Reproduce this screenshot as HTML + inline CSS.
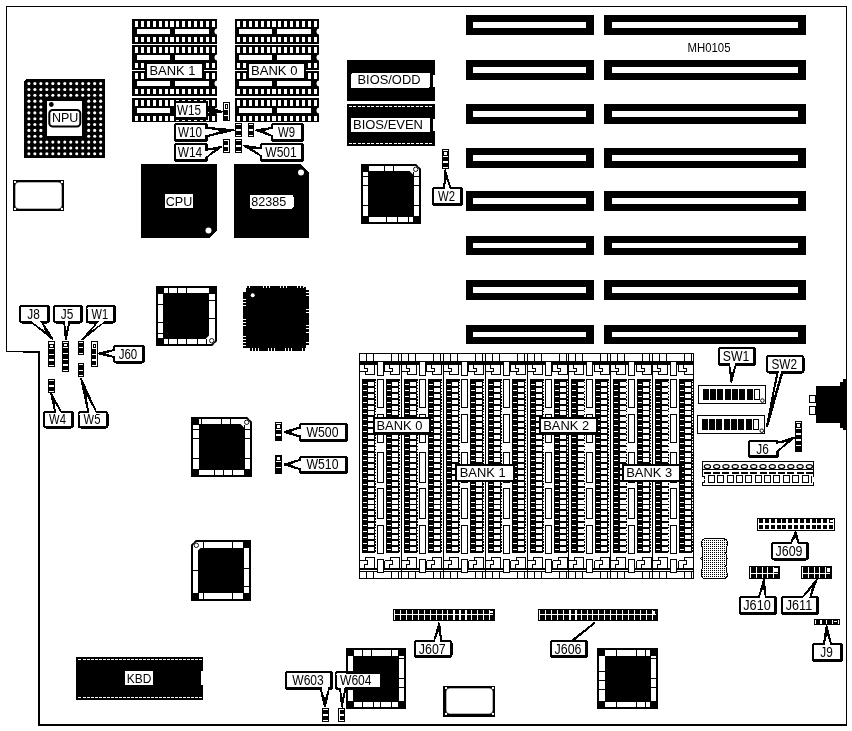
<!DOCTYPE html>
<html><head><meta charset="utf-8"><title>MH0105</title>
<style>html,body{margin:0;padding:0;background:#fff}svg{display:block;will-change:transform}text{font-family:"Liberation Sans",sans-serif}</style>
</head><body>
<svg width="852" height="731" viewBox="0 0 852 731" shape-rendering="crispEdges">
<rect width="852" height="731" fill="#fff"/>
<rect x="6" y="6" width="841" height="1" fill="#000"/>
<rect x="6" y="6" width="1" height="346" fill="#000"/>
<rect x="846" y="6" width="1" height="720" fill="#000"/>
<rect x="6" y="351" width="34" height="1" fill="#000"/>
<rect x="23" y="352" width="17" height="1" fill="#000"/>
<rect x="38" y="351" width="2" height="375" fill="#000"/>
<rect x="38" y="724" width="809" height="2" fill="#000"/>
<polygon points="26,79 105,79 105,158 24,158 24,81" fill="#000"/>
<circle cx="28.9" cy="83.6" r="1.55" fill="#fff" shape-rendering="geometricPrecision"/>
<circle cx="34.88" cy="83.6" r="1.55" fill="#fff" shape-rendering="geometricPrecision"/>
<circle cx="40.86" cy="83.6" r="1.55" fill="#fff" shape-rendering="geometricPrecision"/>
<circle cx="46.84" cy="83.6" r="1.55" fill="#fff" shape-rendering="geometricPrecision"/>
<circle cx="52.82" cy="83.6" r="1.55" fill="#fff" shape-rendering="geometricPrecision"/>
<circle cx="58.8" cy="83.6" r="1.55" fill="#fff" shape-rendering="geometricPrecision"/>
<circle cx="64.78" cy="83.6" r="1.55" fill="#fff" shape-rendering="geometricPrecision"/>
<circle cx="70.76" cy="83.6" r="1.55" fill="#fff" shape-rendering="geometricPrecision"/>
<circle cx="76.74" cy="83.6" r="1.55" fill="#fff" shape-rendering="geometricPrecision"/>
<circle cx="82.72" cy="83.6" r="1.55" fill="#fff" shape-rendering="geometricPrecision"/>
<circle cx="88.7" cy="83.6" r="1.55" fill="#fff" shape-rendering="geometricPrecision"/>
<circle cx="94.68" cy="83.6" r="1.55" fill="#fff" shape-rendering="geometricPrecision"/>
<circle cx="100.66" cy="83.6" r="1.55" fill="#fff" shape-rendering="geometricPrecision"/>
<circle cx="28.9" cy="89.45" r="1.55" fill="#fff" shape-rendering="geometricPrecision"/>
<circle cx="34.88" cy="89.45" r="1.55" fill="#fff" shape-rendering="geometricPrecision"/>
<circle cx="40.86" cy="89.45" r="1.55" fill="#fff" shape-rendering="geometricPrecision"/>
<circle cx="46.84" cy="89.45" r="1.55" fill="#fff" shape-rendering="geometricPrecision"/>
<circle cx="52.82" cy="89.45" r="1.55" fill="#fff" shape-rendering="geometricPrecision"/>
<circle cx="58.8" cy="89.45" r="1.55" fill="#fff" shape-rendering="geometricPrecision"/>
<circle cx="64.78" cy="89.45" r="1.55" fill="#fff" shape-rendering="geometricPrecision"/>
<circle cx="70.76" cy="89.45" r="1.55" fill="#fff" shape-rendering="geometricPrecision"/>
<circle cx="76.74" cy="89.45" r="1.55" fill="#fff" shape-rendering="geometricPrecision"/>
<circle cx="82.72" cy="89.45" r="1.55" fill="#fff" shape-rendering="geometricPrecision"/>
<circle cx="88.7" cy="89.45" r="1.55" fill="#fff" shape-rendering="geometricPrecision"/>
<circle cx="94.68" cy="89.45" r="1.55" fill="#fff" shape-rendering="geometricPrecision"/>
<circle cx="100.66" cy="89.45" r="1.55" fill="#fff" shape-rendering="geometricPrecision"/>
<circle cx="28.9" cy="95.3" r="1.55" fill="#fff" shape-rendering="geometricPrecision"/>
<circle cx="34.88" cy="95.3" r="1.55" fill="#fff" shape-rendering="geometricPrecision"/>
<circle cx="40.86" cy="95.3" r="1.55" fill="#fff" shape-rendering="geometricPrecision"/>
<circle cx="46.84" cy="95.3" r="1.55" fill="#fff" shape-rendering="geometricPrecision"/>
<circle cx="52.82" cy="95.3" r="1.55" fill="#fff" shape-rendering="geometricPrecision"/>
<circle cx="58.8" cy="95.3" r="1.55" fill="#fff" shape-rendering="geometricPrecision"/>
<circle cx="64.78" cy="95.3" r="1.55" fill="#fff" shape-rendering="geometricPrecision"/>
<circle cx="70.76" cy="95.3" r="1.55" fill="#fff" shape-rendering="geometricPrecision"/>
<circle cx="76.74" cy="95.3" r="1.55" fill="#fff" shape-rendering="geometricPrecision"/>
<circle cx="82.72" cy="95.3" r="1.55" fill="#fff" shape-rendering="geometricPrecision"/>
<circle cx="88.7" cy="95.3" r="1.55" fill="#fff" shape-rendering="geometricPrecision"/>
<circle cx="94.68" cy="95.3" r="1.55" fill="#fff" shape-rendering="geometricPrecision"/>
<circle cx="100.66" cy="95.3" r="1.55" fill="#fff" shape-rendering="geometricPrecision"/>
<circle cx="28.9" cy="101.15" r="1.55" fill="#fff" shape-rendering="geometricPrecision"/>
<circle cx="34.88" cy="101.15" r="1.55" fill="#fff" shape-rendering="geometricPrecision"/>
<circle cx="40.86" cy="101.15" r="1.55" fill="#fff" shape-rendering="geometricPrecision"/>
<circle cx="88.7" cy="101.15" r="1.55" fill="#fff" shape-rendering="geometricPrecision"/>
<circle cx="94.68" cy="101.15" r="1.55" fill="#fff" shape-rendering="geometricPrecision"/>
<circle cx="100.66" cy="101.15" r="1.55" fill="#fff" shape-rendering="geometricPrecision"/>
<circle cx="28.9" cy="107" r="1.55" fill="#fff" shape-rendering="geometricPrecision"/>
<circle cx="34.88" cy="107" r="1.55" fill="#fff" shape-rendering="geometricPrecision"/>
<circle cx="40.86" cy="107" r="1.55" fill="#fff" shape-rendering="geometricPrecision"/>
<circle cx="88.7" cy="107" r="1.55" fill="#fff" shape-rendering="geometricPrecision"/>
<circle cx="94.68" cy="107" r="1.55" fill="#fff" shape-rendering="geometricPrecision"/>
<circle cx="100.66" cy="107" r="1.55" fill="#fff" shape-rendering="geometricPrecision"/>
<circle cx="28.9" cy="112.85" r="1.55" fill="#fff" shape-rendering="geometricPrecision"/>
<circle cx="34.88" cy="112.85" r="1.55" fill="#fff" shape-rendering="geometricPrecision"/>
<circle cx="40.86" cy="112.85" r="1.55" fill="#fff" shape-rendering="geometricPrecision"/>
<circle cx="88.7" cy="112.85" r="1.55" fill="#fff" shape-rendering="geometricPrecision"/>
<circle cx="94.68" cy="112.85" r="1.55" fill="#fff" shape-rendering="geometricPrecision"/>
<circle cx="100.66" cy="112.85" r="1.55" fill="#fff" shape-rendering="geometricPrecision"/>
<circle cx="28.9" cy="118.7" r="1.55" fill="#fff" shape-rendering="geometricPrecision"/>
<circle cx="34.88" cy="118.7" r="1.55" fill="#fff" shape-rendering="geometricPrecision"/>
<circle cx="40.86" cy="118.7" r="1.55" fill="#fff" shape-rendering="geometricPrecision"/>
<circle cx="88.7" cy="118.7" r="1.55" fill="#fff" shape-rendering="geometricPrecision"/>
<circle cx="94.68" cy="118.7" r="1.55" fill="#fff" shape-rendering="geometricPrecision"/>
<circle cx="100.66" cy="118.7" r="1.55" fill="#fff" shape-rendering="geometricPrecision"/>
<circle cx="28.9" cy="124.55" r="1.55" fill="#fff" shape-rendering="geometricPrecision"/>
<circle cx="34.88" cy="124.55" r="1.55" fill="#fff" shape-rendering="geometricPrecision"/>
<circle cx="40.86" cy="124.55" r="1.55" fill="#fff" shape-rendering="geometricPrecision"/>
<circle cx="88.7" cy="124.55" r="1.55" fill="#fff" shape-rendering="geometricPrecision"/>
<circle cx="94.68" cy="124.55" r="1.55" fill="#fff" shape-rendering="geometricPrecision"/>
<circle cx="100.66" cy="124.55" r="1.55" fill="#fff" shape-rendering="geometricPrecision"/>
<circle cx="28.9" cy="130.4" r="1.55" fill="#fff" shape-rendering="geometricPrecision"/>
<circle cx="34.88" cy="130.4" r="1.55" fill="#fff" shape-rendering="geometricPrecision"/>
<circle cx="40.86" cy="130.4" r="1.55" fill="#fff" shape-rendering="geometricPrecision"/>
<circle cx="88.7" cy="130.4" r="1.55" fill="#fff" shape-rendering="geometricPrecision"/>
<circle cx="94.68" cy="130.4" r="1.55" fill="#fff" shape-rendering="geometricPrecision"/>
<circle cx="100.66" cy="130.4" r="1.55" fill="#fff" shape-rendering="geometricPrecision"/>
<circle cx="28.9" cy="136.25" r="1.55" fill="#fff" shape-rendering="geometricPrecision"/>
<circle cx="34.88" cy="136.25" r="1.55" fill="#fff" shape-rendering="geometricPrecision"/>
<circle cx="40.86" cy="136.25" r="1.55" fill="#fff" shape-rendering="geometricPrecision"/>
<circle cx="88.7" cy="136.25" r="1.55" fill="#fff" shape-rendering="geometricPrecision"/>
<circle cx="94.68" cy="136.25" r="1.55" fill="#fff" shape-rendering="geometricPrecision"/>
<circle cx="100.66" cy="136.25" r="1.55" fill="#fff" shape-rendering="geometricPrecision"/>
<circle cx="28.9" cy="142.1" r="1.55" fill="#fff" shape-rendering="geometricPrecision"/>
<circle cx="34.88" cy="142.1" r="1.55" fill="#fff" shape-rendering="geometricPrecision"/>
<circle cx="40.86" cy="142.1" r="1.55" fill="#fff" shape-rendering="geometricPrecision"/>
<circle cx="46.84" cy="142.1" r="1.55" fill="#fff" shape-rendering="geometricPrecision"/>
<circle cx="52.82" cy="142.1" r="1.55" fill="#fff" shape-rendering="geometricPrecision"/>
<circle cx="58.8" cy="142.1" r="1.55" fill="#fff" shape-rendering="geometricPrecision"/>
<circle cx="64.78" cy="142.1" r="1.55" fill="#fff" shape-rendering="geometricPrecision"/>
<circle cx="70.76" cy="142.1" r="1.55" fill="#fff" shape-rendering="geometricPrecision"/>
<circle cx="76.74" cy="142.1" r="1.55" fill="#fff" shape-rendering="geometricPrecision"/>
<circle cx="82.72" cy="142.1" r="1.55" fill="#fff" shape-rendering="geometricPrecision"/>
<circle cx="88.7" cy="142.1" r="1.55" fill="#fff" shape-rendering="geometricPrecision"/>
<circle cx="94.68" cy="142.1" r="1.55" fill="#fff" shape-rendering="geometricPrecision"/>
<circle cx="100.66" cy="142.1" r="1.55" fill="#fff" shape-rendering="geometricPrecision"/>
<circle cx="28.9" cy="147.95" r="1.55" fill="#fff" shape-rendering="geometricPrecision"/>
<circle cx="34.88" cy="147.95" r="1.55" fill="#fff" shape-rendering="geometricPrecision"/>
<circle cx="40.86" cy="147.95" r="1.55" fill="#fff" shape-rendering="geometricPrecision"/>
<circle cx="46.84" cy="147.95" r="1.55" fill="#fff" shape-rendering="geometricPrecision"/>
<circle cx="52.82" cy="147.95" r="1.55" fill="#fff" shape-rendering="geometricPrecision"/>
<circle cx="58.8" cy="147.95" r="1.55" fill="#fff" shape-rendering="geometricPrecision"/>
<circle cx="64.78" cy="147.95" r="1.55" fill="#fff" shape-rendering="geometricPrecision"/>
<circle cx="70.76" cy="147.95" r="1.55" fill="#fff" shape-rendering="geometricPrecision"/>
<circle cx="76.74" cy="147.95" r="1.55" fill="#fff" shape-rendering="geometricPrecision"/>
<circle cx="82.72" cy="147.95" r="1.55" fill="#fff" shape-rendering="geometricPrecision"/>
<circle cx="88.7" cy="147.95" r="1.55" fill="#fff" shape-rendering="geometricPrecision"/>
<circle cx="94.68" cy="147.95" r="1.55" fill="#fff" shape-rendering="geometricPrecision"/>
<circle cx="100.66" cy="147.95" r="1.55" fill="#fff" shape-rendering="geometricPrecision"/>
<circle cx="28.9" cy="153.8" r="1.55" fill="#fff" shape-rendering="geometricPrecision"/>
<circle cx="34.88" cy="153.8" r="1.55" fill="#fff" shape-rendering="geometricPrecision"/>
<circle cx="40.86" cy="153.8" r="1.55" fill="#fff" shape-rendering="geometricPrecision"/>
<circle cx="46.84" cy="153.8" r="1.55" fill="#fff" shape-rendering="geometricPrecision"/>
<circle cx="52.82" cy="153.8" r="1.55" fill="#fff" shape-rendering="geometricPrecision"/>
<circle cx="58.8" cy="153.8" r="1.55" fill="#fff" shape-rendering="geometricPrecision"/>
<circle cx="64.78" cy="153.8" r="1.55" fill="#fff" shape-rendering="geometricPrecision"/>
<circle cx="70.76" cy="153.8" r="1.55" fill="#fff" shape-rendering="geometricPrecision"/>
<circle cx="76.74" cy="153.8" r="1.55" fill="#fff" shape-rendering="geometricPrecision"/>
<circle cx="82.72" cy="153.8" r="1.55" fill="#fff" shape-rendering="geometricPrecision"/>
<circle cx="88.7" cy="153.8" r="1.55" fill="#fff" shape-rendering="geometricPrecision"/>
<circle cx="94.68" cy="153.8" r="1.55" fill="#fff" shape-rendering="geometricPrecision"/>
<circle cx="100.66" cy="153.8" r="1.55" fill="#fff" shape-rendering="geometricPrecision"/>
<rect x="47" y="101" width="35" height="35" fill="#fff"/>
<circle cx="51.3" cy="104.5" r="2.4" fill="#000" shape-rendering="geometricPrecision"/>
<rect x="49.3" y="110" width="31" height="16.5" rx="3.5" fill="#fff" stroke="#000" stroke-width="2" shape-rendering="geometricPrecision"/>
<text x="52" y="122.4" font-size="12.5" text-anchor="start" fill="#000" textLength="26.4" lengthAdjust="spacingAndGlyphs">NPU</text>
<rect x="132" y="19" width="85" height="25" fill="#000"/>
<rect x="135" y="21" width="3" height="6" fill="#fff"/>
<rect x="135" y="37" width="3" height="5" fill="#fff"/>
<rect x="141" y="21" width="3" height="6" fill="#fff"/>
<rect x="141" y="37" width="3" height="5" fill="#fff"/>
<rect x="147" y="21" width="3" height="6" fill="#fff"/>
<rect x="147" y="37" width="3" height="5" fill="#fff"/>
<rect x="153" y="21" width="3" height="6" fill="#fff"/>
<rect x="153" y="37" width="3" height="5" fill="#fff"/>
<rect x="159" y="21" width="3" height="6" fill="#fff"/>
<rect x="159" y="37" width="3" height="5" fill="#fff"/>
<rect x="165" y="21" width="3" height="6" fill="#fff"/>
<rect x="165" y="37" width="3" height="5" fill="#fff"/>
<rect x="170" y="21" width="3.5" height="6" fill="#fff"/>
<rect x="170" y="37" width="3.5" height="5" fill="#fff"/>
<rect x="176" y="21" width="3" height="6" fill="#fff"/>
<rect x="176" y="37" width="3" height="5" fill="#fff"/>
<rect x="182" y="21" width="3" height="6" fill="#fff"/>
<rect x="182" y="37" width="3" height="5" fill="#fff"/>
<rect x="188" y="21" width="3" height="6" fill="#fff"/>
<rect x="188" y="37" width="3" height="5" fill="#fff"/>
<rect x="194" y="21" width="3" height="6" fill="#fff"/>
<rect x="194" y="37" width="3" height="5" fill="#fff"/>
<rect x="200" y="21" width="3" height="6" fill="#fff"/>
<rect x="200" y="37" width="3" height="5" fill="#fff"/>
<rect x="206" y="21" width="3" height="6" fill="#fff"/>
<rect x="206" y="37" width="3" height="5" fill="#fff"/>
<rect x="212" y="21" width="3" height="6" fill="#fff"/>
<rect x="212" y="37" width="3" height="5" fill="#fff"/>
<rect x="137" y="29" width="33" height="5" fill="#fff"/>
<rect x="175" y="29" width="34" height="5" fill="#fff"/>
<circle cx="217.5" cy="31.5" r="3" fill="#fff" shape-rendering="geometricPrecision"/>
<rect x="132" y="45" width="85" height="25" fill="#000"/>
<rect x="135" y="47" width="3" height="6" fill="#fff"/>
<rect x="135" y="63" width="3" height="5" fill="#fff"/>
<rect x="141" y="47" width="3" height="6" fill="#fff"/>
<rect x="141" y="63" width="3" height="5" fill="#fff"/>
<rect x="147" y="47" width="3" height="6" fill="#fff"/>
<rect x="147" y="63" width="3" height="5" fill="#fff"/>
<rect x="153" y="47" width="3" height="6" fill="#fff"/>
<rect x="153" y="63" width="3" height="5" fill="#fff"/>
<rect x="159" y="47" width="3" height="6" fill="#fff"/>
<rect x="159" y="63" width="3" height="5" fill="#fff"/>
<rect x="165" y="47" width="3" height="6" fill="#fff"/>
<rect x="165" y="63" width="3" height="5" fill="#fff"/>
<rect x="170" y="47" width="3.5" height="6" fill="#fff"/>
<rect x="170" y="63" width="3.5" height="5" fill="#fff"/>
<rect x="176" y="47" width="3" height="6" fill="#fff"/>
<rect x="176" y="63" width="3" height="5" fill="#fff"/>
<rect x="182" y="47" width="3" height="6" fill="#fff"/>
<rect x="182" y="63" width="3" height="5" fill="#fff"/>
<rect x="188" y="47" width="3" height="6" fill="#fff"/>
<rect x="188" y="63" width="3" height="5" fill="#fff"/>
<rect x="194" y="47" width="3" height="6" fill="#fff"/>
<rect x="194" y="63" width="3" height="5" fill="#fff"/>
<rect x="200" y="47" width="3" height="6" fill="#fff"/>
<rect x="200" y="63" width="3" height="5" fill="#fff"/>
<rect x="206" y="47" width="3" height="6" fill="#fff"/>
<rect x="206" y="63" width="3" height="5" fill="#fff"/>
<rect x="212" y="47" width="3" height="6" fill="#fff"/>
<rect x="212" y="63" width="3" height="5" fill="#fff"/>
<rect x="137" y="55" width="33" height="5" fill="#fff"/>
<rect x="175" y="55" width="34" height="5" fill="#fff"/>
<circle cx="217.5" cy="57.5" r="3" fill="#fff" shape-rendering="geometricPrecision"/>
<rect x="132" y="71" width="85" height="25" fill="#000"/>
<rect x="135" y="73" width="3" height="6" fill="#fff"/>
<rect x="135" y="89" width="3" height="5" fill="#fff"/>
<rect x="141" y="73" width="3" height="6" fill="#fff"/>
<rect x="141" y="89" width="3" height="5" fill="#fff"/>
<rect x="147" y="73" width="3" height="6" fill="#fff"/>
<rect x="147" y="89" width="3" height="5" fill="#fff"/>
<rect x="153" y="73" width="3" height="6" fill="#fff"/>
<rect x="153" y="89" width="3" height="5" fill="#fff"/>
<rect x="159" y="73" width="3" height="6" fill="#fff"/>
<rect x="159" y="89" width="3" height="5" fill="#fff"/>
<rect x="165" y="73" width="3" height="6" fill="#fff"/>
<rect x="165" y="89" width="3" height="5" fill="#fff"/>
<rect x="170" y="73" width="3.5" height="6" fill="#fff"/>
<rect x="170" y="89" width="3.5" height="5" fill="#fff"/>
<rect x="176" y="73" width="3" height="6" fill="#fff"/>
<rect x="176" y="89" width="3" height="5" fill="#fff"/>
<rect x="182" y="73" width="3" height="6" fill="#fff"/>
<rect x="182" y="89" width="3" height="5" fill="#fff"/>
<rect x="188" y="73" width="3" height="6" fill="#fff"/>
<rect x="188" y="89" width="3" height="5" fill="#fff"/>
<rect x="194" y="73" width="3" height="6" fill="#fff"/>
<rect x="194" y="89" width="3" height="5" fill="#fff"/>
<rect x="200" y="73" width="3" height="6" fill="#fff"/>
<rect x="200" y="89" width="3" height="5" fill="#fff"/>
<rect x="206" y="73" width="3" height="6" fill="#fff"/>
<rect x="206" y="89" width="3" height="5" fill="#fff"/>
<rect x="212" y="73" width="3" height="6" fill="#fff"/>
<rect x="212" y="89" width="3" height="5" fill="#fff"/>
<rect x="137" y="81" width="33" height="5" fill="#fff"/>
<rect x="175" y="81" width="34" height="5" fill="#fff"/>
<circle cx="217.5" cy="83.5" r="3" fill="#fff" shape-rendering="geometricPrecision"/>
<rect x="132" y="98" width="85" height="24" fill="#000"/>
<rect x="135" y="100" width="3" height="6" fill="#fff"/>
<rect x="135" y="116" width="3" height="5" fill="#fff"/>
<rect x="141" y="100" width="3" height="6" fill="#fff"/>
<rect x="141" y="116" width="3" height="5" fill="#fff"/>
<rect x="147" y="100" width="3" height="6" fill="#fff"/>
<rect x="147" y="116" width="3" height="5" fill="#fff"/>
<rect x="153" y="100" width="3" height="6" fill="#fff"/>
<rect x="153" y="116" width="3" height="5" fill="#fff"/>
<rect x="159" y="100" width="3" height="6" fill="#fff"/>
<rect x="159" y="116" width="3" height="5" fill="#fff"/>
<rect x="165" y="100" width="3" height="6" fill="#fff"/>
<rect x="165" y="116" width="3" height="5" fill="#fff"/>
<rect x="170" y="100" width="3.5" height="6" fill="#fff"/>
<rect x="170" y="116" width="3.5" height="5" fill="#fff"/>
<rect x="176" y="100" width="3" height="6" fill="#fff"/>
<rect x="176" y="116" width="3" height="5" fill="#fff"/>
<rect x="182" y="100" width="3" height="6" fill="#fff"/>
<rect x="182" y="116" width="3" height="5" fill="#fff"/>
<rect x="188" y="100" width="3" height="6" fill="#fff"/>
<rect x="188" y="116" width="3" height="5" fill="#fff"/>
<rect x="194" y="100" width="3" height="6" fill="#fff"/>
<rect x="194" y="116" width="3" height="5" fill="#fff"/>
<rect x="200" y="100" width="3" height="6" fill="#fff"/>
<rect x="200" y="116" width="3" height="5" fill="#fff"/>
<rect x="206" y="100" width="3" height="6" fill="#fff"/>
<rect x="206" y="116" width="3" height="5" fill="#fff"/>
<rect x="212" y="100" width="3" height="6" fill="#fff"/>
<rect x="212" y="116" width="3" height="5" fill="#fff"/>
<rect x="137" y="108" width="33" height="5" fill="#fff"/>
<rect x="175" y="108" width="34" height="5" fill="#fff"/>
<circle cx="217.5" cy="110.5" r="3" fill="#fff" shape-rendering="geometricPrecision"/>
<line x1="132" y1="70.5" x2="217" y2="70.5" stroke="#fff" stroke-width="1"/>
<rect x="235" y="19" width="84" height="25" fill="#000"/>
<rect x="237" y="21" width="3" height="6" fill="#fff"/>
<rect x="237" y="37" width="3" height="5" fill="#fff"/>
<rect x="243" y="21" width="3" height="6" fill="#fff"/>
<rect x="243" y="37" width="3" height="5" fill="#fff"/>
<rect x="249" y="21" width="3" height="6" fill="#fff"/>
<rect x="249" y="37" width="3" height="5" fill="#fff"/>
<rect x="255" y="21" width="3" height="6" fill="#fff"/>
<rect x="255" y="37" width="3" height="5" fill="#fff"/>
<rect x="261" y="21" width="3" height="6" fill="#fff"/>
<rect x="261" y="37" width="3" height="5" fill="#fff"/>
<rect x="267" y="21" width="3" height="6" fill="#fff"/>
<rect x="267" y="37" width="3" height="5" fill="#fff"/>
<rect x="272" y="21" width="3.5" height="6" fill="#fff"/>
<rect x="272" y="37" width="3.5" height="5" fill="#fff"/>
<rect x="278" y="21" width="3" height="6" fill="#fff"/>
<rect x="278" y="37" width="3" height="5" fill="#fff"/>
<rect x="284" y="21" width="3" height="6" fill="#fff"/>
<rect x="284" y="37" width="3" height="5" fill="#fff"/>
<rect x="290" y="21" width="3" height="6" fill="#fff"/>
<rect x="290" y="37" width="3" height="5" fill="#fff"/>
<rect x="296" y="21" width="3" height="6" fill="#fff"/>
<rect x="296" y="37" width="3" height="5" fill="#fff"/>
<rect x="302" y="21" width="3" height="6" fill="#fff"/>
<rect x="302" y="37" width="3" height="5" fill="#fff"/>
<rect x="308" y="21" width="3" height="6" fill="#fff"/>
<rect x="308" y="37" width="3" height="5" fill="#fff"/>
<rect x="314" y="21" width="3" height="6" fill="#fff"/>
<rect x="314" y="37" width="3" height="5" fill="#fff"/>
<rect x="239" y="29" width="33" height="5" fill="#fff"/>
<rect x="277" y="29" width="34" height="5" fill="#fff"/>
<circle cx="319.5" cy="31.5" r="3" fill="#fff" shape-rendering="geometricPrecision"/>
<rect x="235" y="45" width="84" height="25" fill="#000"/>
<rect x="237" y="47" width="3" height="6" fill="#fff"/>
<rect x="237" y="63" width="3" height="5" fill="#fff"/>
<rect x="243" y="47" width="3" height="6" fill="#fff"/>
<rect x="243" y="63" width="3" height="5" fill="#fff"/>
<rect x="249" y="47" width="3" height="6" fill="#fff"/>
<rect x="249" y="63" width="3" height="5" fill="#fff"/>
<rect x="255" y="47" width="3" height="6" fill="#fff"/>
<rect x="255" y="63" width="3" height="5" fill="#fff"/>
<rect x="261" y="47" width="3" height="6" fill="#fff"/>
<rect x="261" y="63" width="3" height="5" fill="#fff"/>
<rect x="267" y="47" width="3" height="6" fill="#fff"/>
<rect x="267" y="63" width="3" height="5" fill="#fff"/>
<rect x="272" y="47" width="3.5" height="6" fill="#fff"/>
<rect x="272" y="63" width="3.5" height="5" fill="#fff"/>
<rect x="278" y="47" width="3" height="6" fill="#fff"/>
<rect x="278" y="63" width="3" height="5" fill="#fff"/>
<rect x="284" y="47" width="3" height="6" fill="#fff"/>
<rect x="284" y="63" width="3" height="5" fill="#fff"/>
<rect x="290" y="47" width="3" height="6" fill="#fff"/>
<rect x="290" y="63" width="3" height="5" fill="#fff"/>
<rect x="296" y="47" width="3" height="6" fill="#fff"/>
<rect x="296" y="63" width="3" height="5" fill="#fff"/>
<rect x="302" y="47" width="3" height="6" fill="#fff"/>
<rect x="302" y="63" width="3" height="5" fill="#fff"/>
<rect x="308" y="47" width="3" height="6" fill="#fff"/>
<rect x="308" y="63" width="3" height="5" fill="#fff"/>
<rect x="314" y="47" width="3" height="6" fill="#fff"/>
<rect x="314" y="63" width="3" height="5" fill="#fff"/>
<rect x="239" y="55" width="33" height="5" fill="#fff"/>
<rect x="277" y="55" width="34" height="5" fill="#fff"/>
<circle cx="319.5" cy="57.5" r="3" fill="#fff" shape-rendering="geometricPrecision"/>
<rect x="235" y="71" width="84" height="25" fill="#000"/>
<rect x="237" y="73" width="3" height="6" fill="#fff"/>
<rect x="237" y="89" width="3" height="5" fill="#fff"/>
<rect x="243" y="73" width="3" height="6" fill="#fff"/>
<rect x="243" y="89" width="3" height="5" fill="#fff"/>
<rect x="249" y="73" width="3" height="6" fill="#fff"/>
<rect x="249" y="89" width="3" height="5" fill="#fff"/>
<rect x="255" y="73" width="3" height="6" fill="#fff"/>
<rect x="255" y="89" width="3" height="5" fill="#fff"/>
<rect x="261" y="73" width="3" height="6" fill="#fff"/>
<rect x="261" y="89" width="3" height="5" fill="#fff"/>
<rect x="267" y="73" width="3" height="6" fill="#fff"/>
<rect x="267" y="89" width="3" height="5" fill="#fff"/>
<rect x="272" y="73" width="3.5" height="6" fill="#fff"/>
<rect x="272" y="89" width="3.5" height="5" fill="#fff"/>
<rect x="278" y="73" width="3" height="6" fill="#fff"/>
<rect x="278" y="89" width="3" height="5" fill="#fff"/>
<rect x="284" y="73" width="3" height="6" fill="#fff"/>
<rect x="284" y="89" width="3" height="5" fill="#fff"/>
<rect x="290" y="73" width="3" height="6" fill="#fff"/>
<rect x="290" y="89" width="3" height="5" fill="#fff"/>
<rect x="296" y="73" width="3" height="6" fill="#fff"/>
<rect x="296" y="89" width="3" height="5" fill="#fff"/>
<rect x="302" y="73" width="3" height="6" fill="#fff"/>
<rect x="302" y="89" width="3" height="5" fill="#fff"/>
<rect x="308" y="73" width="3" height="6" fill="#fff"/>
<rect x="308" y="89" width="3" height="5" fill="#fff"/>
<rect x="314" y="73" width="3" height="6" fill="#fff"/>
<rect x="314" y="89" width="3" height="5" fill="#fff"/>
<rect x="239" y="81" width="33" height="5" fill="#fff"/>
<rect x="277" y="81" width="34" height="5" fill="#fff"/>
<circle cx="319.5" cy="83.5" r="3" fill="#fff" shape-rendering="geometricPrecision"/>
<rect x="235" y="98" width="84" height="24" fill="#000"/>
<rect x="237" y="100" width="3" height="6" fill="#fff"/>
<rect x="237" y="116" width="3" height="5" fill="#fff"/>
<rect x="243" y="100" width="3" height="6" fill="#fff"/>
<rect x="243" y="116" width="3" height="5" fill="#fff"/>
<rect x="249" y="100" width="3" height="6" fill="#fff"/>
<rect x="249" y="116" width="3" height="5" fill="#fff"/>
<rect x="255" y="100" width="3" height="6" fill="#fff"/>
<rect x="255" y="116" width="3" height="5" fill="#fff"/>
<rect x="261" y="100" width="3" height="6" fill="#fff"/>
<rect x="261" y="116" width="3" height="5" fill="#fff"/>
<rect x="267" y="100" width="3" height="6" fill="#fff"/>
<rect x="267" y="116" width="3" height="5" fill="#fff"/>
<rect x="272" y="100" width="3.5" height="6" fill="#fff"/>
<rect x="272" y="116" width="3.5" height="5" fill="#fff"/>
<rect x="278" y="100" width="3" height="6" fill="#fff"/>
<rect x="278" y="116" width="3" height="5" fill="#fff"/>
<rect x="284" y="100" width="3" height="6" fill="#fff"/>
<rect x="284" y="116" width="3" height="5" fill="#fff"/>
<rect x="290" y="100" width="3" height="6" fill="#fff"/>
<rect x="290" y="116" width="3" height="5" fill="#fff"/>
<rect x="296" y="100" width="3" height="6" fill="#fff"/>
<rect x="296" y="116" width="3" height="5" fill="#fff"/>
<rect x="302" y="100" width="3" height="6" fill="#fff"/>
<rect x="302" y="116" width="3" height="5" fill="#fff"/>
<rect x="308" y="100" width="3" height="6" fill="#fff"/>
<rect x="308" y="116" width="3" height="5" fill="#fff"/>
<rect x="314" y="100" width="3" height="6" fill="#fff"/>
<rect x="314" y="116" width="3" height="5" fill="#fff"/>
<rect x="239" y="108" width="33" height="5" fill="#fff"/>
<rect x="277" y="108" width="34" height="5" fill="#fff"/>
<circle cx="319.5" cy="110.5" r="3" fill="#fff" shape-rendering="geometricPrecision"/>
<line x1="235" y1="70.5" x2="319" y2="70.5" stroke="#fff" stroke-width="1"/>
<rect x="145" y="62" width="59" height="18" fill="#000"/>
<rect x="147" y="64" width="55" height="14" fill="#fff"/>
<text x="149.5" y="75.3" font-size="13.5" text-anchor="start" fill="#000" textLength="46" lengthAdjust="spacingAndGlyphs">BANK 1</text>
<rect x="247" y="62" width="59" height="18" fill="#000"/>
<rect x="249" y="64" width="55" height="14" fill="#fff"/>
<text x="251" y="75.3" font-size="13.5" text-anchor="start" fill="#000" textLength="46.5" lengthAdjust="spacingAndGlyphs">BANK 0</text>
<rect x="347" y="60" width="88" height="41" fill="#000"/>
<rect x="351" y="73" width="79" height="15" rx="2" fill="#fff"/>
<rect x="433" y="75" width="2" height="12" fill="#fff"/>
<text x="357.5" y="83.7" font-size="13" text-anchor="start" fill="#000" textLength="63" lengthAdjust="spacingAndGlyphs">BIOS/ODD</text>
<rect x="347" y="104" width="88" height="42" fill="#000"/>
<rect x="351" y="118" width="79" height="14" fill="#fff"/>
<rect x="433" y="119" width="2" height="12" fill="#fff"/>
<text x="353" y="128.6" font-size="13" text-anchor="start" fill="#000" textLength="70" lengthAdjust="spacingAndGlyphs">BIOS/EVEN</text>
<rect x="349" y="106" width="3" height="1" fill="#fff"/>
<rect x="353" y="106" width="3" height="1" fill="#fff"/>
<rect x="358" y="106" width="3" height="1" fill="#fff"/>
<rect x="362" y="106" width="3" height="1" fill="#fff"/>
<rect x="367" y="106" width="3" height="1" fill="#fff"/>
<rect x="371" y="106" width="3" height="1" fill="#fff"/>
<rect x="376" y="106" width="3" height="1" fill="#fff"/>
<rect x="380" y="106" width="3" height="1" fill="#fff"/>
<rect x="385" y="106" width="3" height="1" fill="#fff"/>
<rect x="389" y="106" width="3" height="1" fill="#fff"/>
<rect x="394" y="106" width="3" height="1" fill="#fff"/>
<rect x="398" y="106" width="3" height="1" fill="#fff"/>
<rect x="402" y="106" width="3" height="1" fill="#fff"/>
<rect x="407" y="106" width="3" height="1" fill="#fff"/>
<rect x="411" y="106" width="3" height="1" fill="#fff"/>
<rect x="416" y="106" width="3" height="1" fill="#fff"/>
<rect x="420" y="106" width="3" height="1" fill="#fff"/>
<rect x="425" y="106" width="3" height="1" fill="#fff"/>
<rect x="429" y="106" width="3" height="1" fill="#fff"/>
<rect x="349" y="143" width="3" height="1" fill="#fff"/>
<rect x="353" y="143" width="3" height="1" fill="#fff"/>
<rect x="358" y="143" width="3" height="1" fill="#fff"/>
<rect x="362" y="143" width="3" height="1" fill="#fff"/>
<rect x="367" y="143" width="3" height="1" fill="#fff"/>
<rect x="371" y="143" width="3" height="1" fill="#fff"/>
<rect x="376" y="143" width="3" height="1" fill="#fff"/>
<rect x="380" y="143" width="3" height="1" fill="#fff"/>
<rect x="385" y="143" width="3" height="1" fill="#fff"/>
<rect x="389" y="143" width="3" height="1" fill="#fff"/>
<rect x="394" y="143" width="3" height="1" fill="#fff"/>
<rect x="398" y="143" width="3" height="1" fill="#fff"/>
<rect x="402" y="143" width="3" height="1" fill="#fff"/>
<rect x="407" y="143" width="3" height="1" fill="#fff"/>
<rect x="411" y="143" width="3" height="1" fill="#fff"/>
<rect x="416" y="143" width="3" height="1" fill="#fff"/>
<rect x="420" y="143" width="3" height="1" fill="#fff"/>
<rect x="425" y="143" width="3" height="1" fill="#fff"/>
<rect x="429" y="143" width="3" height="1" fill="#fff"/>
<rect x="466" y="15" width="128" height="20" fill="#000"/>
<rect x="473" y="22" width="113" height="6" fill="#fff"/>
<rect x="604" y="15" width="202" height="20" fill="#000"/>
<rect x="612" y="22" width="186" height="6" fill="#fff"/>
<rect x="466" y="60" width="128" height="20" fill="#000"/>
<rect x="473" y="67" width="113" height="6" fill="#fff"/>
<rect x="604" y="60" width="202" height="20" fill="#000"/>
<rect x="612" y="67" width="186" height="6" fill="#fff"/>
<rect x="466" y="104" width="128" height="20" fill="#000"/>
<rect x="473" y="111" width="113" height="6" fill="#fff"/>
<rect x="604" y="104" width="202" height="20" fill="#000"/>
<rect x="612" y="111" width="186" height="6" fill="#fff"/>
<rect x="466" y="148" width="128" height="20" fill="#000"/>
<rect x="473" y="155" width="113" height="6" fill="#fff"/>
<rect x="604" y="148" width="202" height="20" fill="#000"/>
<rect x="612" y="155" width="186" height="6" fill="#fff"/>
<rect x="466" y="191" width="128" height="20" fill="#000"/>
<rect x="473" y="198" width="113" height="6" fill="#fff"/>
<rect x="604" y="191" width="202" height="20" fill="#000"/>
<rect x="612" y="198" width="186" height="6" fill="#fff"/>
<rect x="466" y="236" width="128" height="19" fill="#000"/>
<rect x="473" y="243" width="113" height="5" fill="#fff"/>
<rect x="604" y="236" width="202" height="19" fill="#000"/>
<rect x="612" y="243" width="186" height="5" fill="#fff"/>
<rect x="466" y="280" width="128" height="20" fill="#000"/>
<rect x="473" y="287" width="113" height="6" fill="#fff"/>
<rect x="604" y="280" width="202" height="20" fill="#000"/>
<rect x="612" y="287" width="186" height="6" fill="#fff"/>
<rect x="466" y="325" width="128" height="19" fill="#000"/>
<rect x="473" y="332" width="113" height="5" fill="#fff"/>
<rect x="604" y="325" width="202" height="19" fill="#000"/>
<rect x="612" y="332" width="186" height="5" fill="#fff"/>
<text x="687.5" y="51.8" font-size="12" text-anchor="start" fill="#000" textLength="43" lengthAdjust="spacingAndGlyphs">MH0105</text>
<polygon points="141,164 217,164 217,230 209,238 141,238" fill="#000"/>
<circle cx="208.5" cy="230.5" r="3" fill="#fff" shape-rendering="geometricPrecision"/>
<rect x="165" y="194" width="28" height="13.5" fill="#fff"/>
<text x="165.8" y="205.7" font-size="13.5" text-anchor="start" fill="#000" textLength="26.5" lengthAdjust="spacingAndGlyphs">CPU</text>
<polygon points="234,164 300,164 308.5,172 308.5,238 234,238" fill="#000"/>
<circle cx="301" cy="172.5" r="3" fill="#fff" shape-rendering="geometricPrecision"/>
<rect x="250" y="194.5" width="43.5" height="14" rx="2" fill="#fff"/>
<text x="251.2" y="206" font-size="13" text-anchor="start" fill="#000" textLength="35" lengthAdjust="spacingAndGlyphs">82385</text>
<rect x="156" y="286" width="61" height="60" fill="#000"/>
<rect x="158" y="288" width="57" height="56" fill="#fff"/>
<rect x="163" y="293" width="46" height="46" fill="#000"/>
<rect x="156" y="286" width="8" height="8" fill="#000"/>
<rect x="209" y="286" width="8" height="8" fill="#000"/>
<rect x="156" y="338" width="8" height="8" fill="#000"/>
<rect x="209" y="338" width="8" height="8" fill="#000"/>
<rect x="168" y="288" width="1" height="5" fill="#000"/>
<rect x="177" y="288" width="1" height="5" fill="#000"/>
<rect x="186" y="288" width="1" height="5" fill="#000"/>
<rect x="168" y="339" width="1" height="5" fill="#000"/>
<rect x="177" y="339" width="1" height="5" fill="#000"/>
<rect x="186" y="339" width="1" height="5" fill="#000"/>
<rect x="197" y="339" width="1" height="5" fill="#000"/>
<rect x="206" y="339" width="1" height="5" fill="#000"/>
<rect x="158" y="304" width="5" height="1" fill="#000"/>
<rect x="158" y="322" width="5" height="1" fill="#000"/>
<rect x="158" y="333" width="5" height="1" fill="#000"/>
<rect x="209" y="300" width="6" height="1" fill="#000"/>
<rect x="209" y="318" width="6" height="1" fill="#000"/>
<rect x="209" y="338" width="6" height="6" fill="#fff"/>
<polygon points="217,346 212,346 217,341" fill="#fff" shape-rendering="geometricPrecision"/>
<line x1="211.5" y1="345.3" x2="216.3" y2="340.5" stroke="#000" stroke-width="1.6" shape-rendering="geometricPrecision"/>
<circle cx="211.7" cy="340.7" r="2.2" fill="#fff" stroke="#000" stroke-width="0.9" shape-rendering="geometricPrecision"/>
<polygon points="209,339 205.5,339 209,335.5" fill="#fff" shape-rendering="geometricPrecision"/>
<rect x="361" y="164" width="60" height="60" fill="#000"/>
<rect x="363" y="166" width="56" height="56" fill="#fff"/>
<rect x="368" y="171" width="46" height="46" fill="#000"/>
<rect x="361" y="164" width="8" height="8" fill="#000"/>
<rect x="413" y="164" width="8" height="8" fill="#000"/>
<rect x="361" y="216" width="8" height="8" fill="#000"/>
<rect x="413" y="216" width="8" height="8" fill="#000"/>
<rect x="384" y="166" width="1" height="5" fill="#000"/>
<rect x="393" y="166" width="1" height="5" fill="#000"/>
<rect x="386" y="217" width="1" height="5" fill="#000"/>
<rect x="397" y="217" width="1" height="5" fill="#000"/>
<rect x="408" y="217" width="1" height="5" fill="#000"/>
<rect x="363" y="176" width="5" height="1" fill="#000"/>
<rect x="363" y="185" width="5" height="1" fill="#000"/>
<rect x="363" y="205" width="5" height="1" fill="#000"/>
<rect x="414" y="176" width="5" height="1" fill="#000"/>
<rect x="414" y="185" width="5" height="1" fill="#000"/>
<rect x="414" y="205" width="5" height="1" fill="#000"/>
<rect x="413" y="166" width="6" height="6" fill="#fff"/>
<polygon points="421,164 416,164 421,169" fill="#fff" shape-rendering="geometricPrecision"/>
<line x1="415.5" y1="164.7" x2="420.3" y2="169.5" stroke="#000" stroke-width="1.6" shape-rendering="geometricPrecision"/>
<circle cx="415.7" cy="169.3" r="2.2" fill="#fff" stroke="#000" stroke-width="0.9" shape-rendering="geometricPrecision"/>
<polygon points="413,171 409.5,171 413,174.5" fill="#fff" shape-rendering="geometricPrecision"/>
<rect x="191" y="417" width="61" height="60" fill="#000"/>
<rect x="193" y="419" width="57" height="56" fill="#fff"/>
<rect x="199" y="424" width="46" height="46" fill="#000"/>
<rect x="191" y="417" width="8" height="8" fill="#000"/>
<rect x="244" y="417" width="8" height="8" fill="#000"/>
<rect x="191" y="469" width="8" height="8" fill="#000"/>
<rect x="244" y="469" width="8" height="8" fill="#000"/>
<rect x="201" y="419" width="1" height="5" fill="#000"/>
<rect x="221" y="419" width="1" height="5" fill="#000"/>
<rect x="230" y="419" width="1" height="5" fill="#000"/>
<rect x="214" y="470" width="1" height="5" fill="#000"/>
<rect x="223" y="470" width="1" height="5" fill="#000"/>
<rect x="232" y="470" width="1" height="5" fill="#000"/>
<rect x="193" y="429" width="6" height="1" fill="#000"/>
<rect x="193" y="438" width="6" height="1" fill="#000"/>
<rect x="193" y="458" width="6" height="1" fill="#000"/>
<rect x="245" y="429" width="5" height="1" fill="#000"/>
<rect x="245" y="438" width="5" height="1" fill="#000"/>
<rect x="245" y="458" width="5" height="1" fill="#000"/>
<rect x="244" y="419" width="6" height="6" fill="#fff"/>
<polygon points="252,417 247,417 252,422" fill="#fff" shape-rendering="geometricPrecision"/>
<line x1="246.5" y1="417.7" x2="251.3" y2="422.5" stroke="#000" stroke-width="1.6" shape-rendering="geometricPrecision"/>
<circle cx="246.7" cy="422.3" r="2.2" fill="#fff" stroke="#000" stroke-width="0.9" shape-rendering="geometricPrecision"/>
<polygon points="244,424 240.5,424 244,427.5" fill="#fff" shape-rendering="geometricPrecision"/>
<rect x="191" y="540" width="60" height="61" fill="#000"/>
<rect x="193" y="542" width="56" height="57" fill="#fff"/>
<rect x="198" y="548" width="46" height="45" fill="#000"/>
<rect x="191" y="540" width="8" height="8" fill="#000"/>
<rect x="243" y="540" width="8" height="8" fill="#000"/>
<rect x="191" y="593" width="8" height="8" fill="#000"/>
<rect x="243" y="593" width="8" height="8" fill="#000"/>
<rect x="203" y="542" width="1" height="6" fill="#000"/>
<rect x="232" y="542" width="1" height="6" fill="#000"/>
<rect x="203" y="593" width="1" height="6" fill="#000"/>
<rect x="232" y="593" width="1" height="6" fill="#000"/>
<rect x="193" y="570" width="5" height="1" fill="#000"/>
<rect x="244" y="568" width="5" height="1" fill="#000"/>
<rect x="244" y="586" width="5" height="1" fill="#000"/>
<rect x="193" y="542" width="6" height="6" fill="#fff"/>
<polygon points="191,540 196,540 191,545" fill="#fff" shape-rendering="geometricPrecision"/>
<line x1="196.5" y1="540.7" x2="191.7" y2="545.5" stroke="#000" stroke-width="1.6" shape-rendering="geometricPrecision"/>
<circle cx="196.3" cy="545.3" r="2.2" fill="#fff" stroke="#000" stroke-width="0.9" shape-rendering="geometricPrecision"/>
<polygon points="198,547 201.5,547 198,550.5" fill="#fff" shape-rendering="geometricPrecision"/>
<rect x="346" y="648" width="60" height="61" fill="#000"/>
<rect x="348" y="650" width="56" height="57" fill="#fff"/>
<rect x="353" y="656" width="46" height="46" fill="#000"/>
<rect x="346" y="648" width="8" height="8" fill="#000"/>
<rect x="398" y="648" width="8" height="8" fill="#000"/>
<rect x="346" y="701" width="8" height="8" fill="#000"/>
<rect x="398" y="701" width="8" height="8" fill="#000"/>
<rect x="362" y="650" width="1" height="6" fill="#000"/>
<rect x="371" y="650" width="1" height="6" fill="#000"/>
<rect x="391" y="650" width="1" height="6" fill="#000"/>
<rect x="362" y="702" width="1" height="5" fill="#000"/>
<rect x="373" y="702" width="1" height="5" fill="#000"/>
<rect x="380" y="702" width="1" height="5" fill="#000"/>
<rect x="391" y="702" width="1" height="5" fill="#000"/>
<rect x="399" y="658" width="5" height="1" fill="#000"/>
<rect x="399" y="678" width="5" height="1" fill="#000"/>
<rect x="399" y="687" width="5" height="1" fill="#000"/>
<rect x="597" y="648" width="61" height="61" fill="#000"/>
<rect x="599" y="650" width="57" height="57" fill="#fff"/>
<rect x="605" y="656" width="46" height="46" fill="#000"/>
<rect x="597" y="648" width="8" height="8" fill="#000"/>
<rect x="650" y="648" width="8" height="8" fill="#000"/>
<rect x="597" y="701" width="8" height="8" fill="#000"/>
<rect x="650" y="701" width="8" height="8" fill="#000"/>
<rect x="616" y="650" width="1" height="6" fill="#000"/>
<rect x="636" y="650" width="1" height="6" fill="#000"/>
<rect x="645" y="650" width="1" height="6" fill="#000"/>
<rect x="616" y="702" width="1" height="5" fill="#000"/>
<rect x="636" y="702" width="1" height="5" fill="#000"/>
<rect x="645" y="702" width="1" height="5" fill="#000"/>
<rect x="599" y="671" width="6" height="1" fill="#000"/>
<rect x="599" y="680" width="6" height="1" fill="#000"/>
<rect x="599" y="689" width="6" height="1" fill="#000"/>
<rect x="651" y="658" width="5" height="1" fill="#000"/>
<rect x="651" y="678" width="5" height="1" fill="#000"/>
<rect x="651" y="687" width="5" height="1" fill="#000"/>
<rect x="243" y="286" width="66" height="65" fill="#000"/>
<rect x="243" y="286" width="3" height="6" fill="#fff"/>
<rect x="306" y="286" width="3" height="3" fill="#fff"/>
<rect x="243" y="348" width="6" height="3" fill="#fff"/>
<rect x="306" y="345" width="3" height="6" fill="#fff"/>
<rect x="246" y="286" width="1" height="2" fill="#fff"/>
<rect x="303" y="286" width="3" height="1" fill="#fff"/>
<rect x="249" y="286" width="1" height="2" fill="#fff"/>
<rect x="263" y="286" width="1" height="2" fill="#fff"/>
<rect x="266" y="286" width="1" height="2" fill="#fff"/>
<rect x="269" y="286" width="1" height="2" fill="#fff"/>
<rect x="280" y="286" width="1" height="2" fill="#fff"/>
<rect x="283" y="286" width="1" height="2" fill="#fff"/>
<rect x="286" y="286" width="1" height="2" fill="#fff"/>
<rect x="297" y="286" width="1" height="2" fill="#fff"/>
<rect x="300" y="286" width="1" height="2" fill="#fff"/>
<rect x="303" y="286" width="1" height="2" fill="#fff"/>
<rect x="249" y="348" width="1" height="3" fill="#fff"/>
<rect x="252" y="348" width="1" height="3" fill="#fff"/>
<rect x="255" y="348" width="1" height="3" fill="#fff"/>
<rect x="258" y="348" width="1" height="3" fill="#fff"/>
<rect x="268" y="348" width="1" height="3" fill="#fff"/>
<rect x="271" y="348" width="1" height="3" fill="#fff"/>
<rect x="274" y="348" width="1" height="3" fill="#fff"/>
<rect x="285" y="348" width="1" height="3" fill="#fff"/>
<rect x="288" y="348" width="1" height="3" fill="#fff"/>
<rect x="291" y="348" width="1" height="3" fill="#fff"/>
<rect x="302" y="348" width="1" height="3" fill="#fff"/>
<rect x="305" y="348" width="1" height="3" fill="#fff"/>
<rect x="243" y="299" width="3" height="1" fill="#fff"/>
<rect x="243" y="302" width="3" height="1" fill="#fff"/>
<rect x="243" y="305" width="3" height="1" fill="#fff"/>
<rect x="243" y="319" width="3" height="1" fill="#fff"/>
<rect x="243" y="322" width="3" height="1" fill="#fff"/>
<rect x="243" y="325" width="3" height="1" fill="#fff"/>
<rect x="243" y="336" width="3" height="1" fill="#fff"/>
<rect x="243" y="339" width="3" height="1" fill="#fff"/>
<rect x="243" y="342" width="3" height="1" fill="#fff"/>
<rect x="243" y="345" width="3" height="1" fill="#fff"/>
<rect x="306" y="289" width="3" height="1" fill="#fff"/>
<rect x="306" y="292" width="3" height="1" fill="#fff"/>
<rect x="306" y="295" width="3" height="1" fill="#fff"/>
<rect x="306" y="309" width="3" height="1" fill="#fff"/>
<rect x="306" y="312" width="3" height="1" fill="#fff"/>
<rect x="306" y="325" width="3" height="1" fill="#fff"/>
<rect x="306" y="328" width="3" height="1" fill="#fff"/>
<rect x="306" y="332" width="3" height="1" fill="#fff"/>
<rect x="306" y="342" width="3" height="1" fill="#fff"/>
<circle cx="252.7" cy="295.3" r="2" fill="#fff" shape-rendering="geometricPrecision"/>
<rect x="13" y="180" width="51" height="31" fill="#000"/>
<rect x="14" y="181" width="2" height="2" fill="#fff"/>
<rect x="61" y="181" width="2" height="2" fill="#fff"/>
<rect x="14" y="208" width="2" height="2" fill="#fff"/>
<rect x="61" y="208" width="2" height="2" fill="#fff"/>
<rect x="15" y="182" width="47" height="27" rx="3.8" fill="#fff" stroke="#000" stroke-width="0.6" shape-rendering="geometricPrecision"/>
<rect x="443" y="686" width="52" height="31" fill="#000"/>
<rect x="445" y="687" width="2" height="2" fill="#fff"/>
<rect x="492" y="687" width="2" height="2" fill="#fff"/>
<rect x="445" y="713" width="2" height="2" fill="#fff"/>
<rect x="492" y="713" width="2" height="2" fill="#fff"/>
<rect x="446" y="688" width="47" height="26" rx="3.8" fill="#fff" stroke="#000" stroke-width="0.6" shape-rendering="geometricPrecision"/>
<rect x="76" y="657" width="127" height="43" fill="#000"/>
<rect x="78" y="659" width="2.6" height="1" fill="#fff"/>
<rect x="83" y="659" width="2.6" height="1" fill="#fff"/>
<rect x="87" y="659" width="2.6" height="1" fill="#fff"/>
<rect x="91" y="659" width="2.6" height="1" fill="#fff"/>
<rect x="95" y="659" width="2.6" height="1" fill="#fff"/>
<rect x="99" y="659" width="2.6" height="1" fill="#fff"/>
<rect x="103" y="659" width="2.6" height="1" fill="#fff"/>
<rect x="107" y="659" width="2.6" height="1" fill="#fff"/>
<rect x="111" y="659" width="2.6" height="1" fill="#fff"/>
<rect x="115" y="659" width="2.6" height="1" fill="#fff"/>
<rect x="119" y="659" width="2.6" height="1" fill="#fff"/>
<rect x="123" y="659" width="2.6" height="1" fill="#fff"/>
<rect x="127" y="659" width="2.6" height="1" fill="#fff"/>
<rect x="131" y="659" width="2.6" height="1" fill="#fff"/>
<rect x="135" y="659" width="2.6" height="1" fill="#fff"/>
<rect x="139" y="659" width="2.6" height="1" fill="#fff"/>
<rect x="143" y="659" width="2.6" height="1" fill="#fff"/>
<rect x="147" y="659" width="2.6" height="1" fill="#fff"/>
<rect x="151" y="659" width="2.6" height="1" fill="#fff"/>
<rect x="155" y="659" width="2.6" height="1" fill="#fff"/>
<rect x="159" y="659" width="2.6" height="1" fill="#fff"/>
<rect x="163" y="659" width="2.6" height="1" fill="#fff"/>
<rect x="167" y="659" width="2.6" height="1" fill="#fff"/>
<rect x="171" y="659" width="2.6" height="1" fill="#fff"/>
<rect x="175" y="659" width="2.6" height="1" fill="#fff"/>
<rect x="179" y="659" width="2.6" height="1" fill="#fff"/>
<rect x="183" y="659" width="2.6" height="1" fill="#fff"/>
<rect x="187" y="659" width="2.6" height="1" fill="#fff"/>
<rect x="191" y="659" width="2.6" height="1" fill="#fff"/>
<rect x="195" y="659" width="2.6" height="1" fill="#fff"/>
<rect x="199" y="659" width="2.6" height="1" fill="#fff"/>
<rect x="78" y="697" width="2.6" height="1" fill="#fff"/>
<rect x="83" y="697" width="2.6" height="1" fill="#fff"/>
<rect x="87" y="697" width="2.6" height="1" fill="#fff"/>
<rect x="91" y="697" width="2.6" height="1" fill="#fff"/>
<rect x="95" y="697" width="2.6" height="1" fill="#fff"/>
<rect x="99" y="697" width="2.6" height="1" fill="#fff"/>
<rect x="103" y="697" width="2.6" height="1" fill="#fff"/>
<rect x="107" y="697" width="2.6" height="1" fill="#fff"/>
<rect x="111" y="697" width="2.6" height="1" fill="#fff"/>
<rect x="115" y="697" width="2.6" height="1" fill="#fff"/>
<rect x="119" y="697" width="2.6" height="1" fill="#fff"/>
<rect x="123" y="697" width="2.6" height="1" fill="#fff"/>
<rect x="127" y="697" width="2.6" height="1" fill="#fff"/>
<rect x="131" y="697" width="2.6" height="1" fill="#fff"/>
<rect x="135" y="697" width="2.6" height="1" fill="#fff"/>
<rect x="139" y="697" width="2.6" height="1" fill="#fff"/>
<rect x="143" y="697" width="2.6" height="1" fill="#fff"/>
<rect x="147" y="697" width="2.6" height="1" fill="#fff"/>
<rect x="151" y="697" width="2.6" height="1" fill="#fff"/>
<rect x="155" y="697" width="2.6" height="1" fill="#fff"/>
<rect x="159" y="697" width="2.6" height="1" fill="#fff"/>
<rect x="163" y="697" width="2.6" height="1" fill="#fff"/>
<rect x="167" y="697" width="2.6" height="1" fill="#fff"/>
<rect x="171" y="697" width="2.6" height="1" fill="#fff"/>
<rect x="175" y="697" width="2.6" height="1" fill="#fff"/>
<rect x="179" y="697" width="2.6" height="1" fill="#fff"/>
<rect x="183" y="697" width="2.6" height="1" fill="#fff"/>
<rect x="187" y="697" width="2.6" height="1" fill="#fff"/>
<rect x="191" y="697" width="2.6" height="1" fill="#fff"/>
<rect x="195" y="697" width="2.6" height="1" fill="#fff"/>
<rect x="199" y="697" width="2.6" height="1" fill="#fff"/>
<rect x="201" y="671" width="2" height="14" fill="#fff"/>
<rect x="125" y="671" width="28" height="14" fill="#fff"/>
<text x="126.7" y="682.9" font-size="13.5" text-anchor="start" fill="#000" textLength="24.6" lengthAdjust="spacingAndGlyphs">KBD</text>
<rect x="223" y="102" width="7" height="19" fill="#000"/>
<rect x="224" y="103" width="5" height="17" fill="#fff"/>
<rect x="224" y="110" width="4" height="5" fill="#000"/>
<rect x="224" y="116" width="4" height="4" fill="#000"/>
<rect x="225" y="104" width="3" height="5" fill="#000"/>
<rect x="226" y="105" width="1" height="3" fill="#fff"/>
<rect x="235" y="123" width="7" height="14" fill="#000"/>
<rect x="236" y="124" width="5" height="1" fill="#fff"/>
<rect x="236" y="129" width="5" height="2" fill="#fff"/>
<rect x="236" y="135" width="5" height="1" fill="#fff"/>
<rect x="248" y="123" width="6" height="14" fill="#000"/>
<rect x="249" y="124" width="4" height="1" fill="#fff"/>
<rect x="249" y="129" width="4" height="2" fill="#fff"/>
<rect x="249" y="135" width="4" height="1" fill="#fff"/>
<rect x="223" y="139" width="7" height="14" fill="#000"/>
<rect x="224" y="140" width="5" height="12" fill="#fff"/>
<rect x="224" y="141" width="4" height="4" fill="#000"/>
<rect x="224" y="147" width="4" height="4" fill="#000"/>
<rect x="235" y="139" width="7" height="14" fill="#000"/>
<rect x="236" y="140" width="5" height="1" fill="#fff"/>
<rect x="236" y="145" width="5" height="2" fill="#fff"/>
<rect x="236" y="151" width="5" height="1" fill="#fff"/>
<rect x="442" y="149" width="7" height="20" fill="#000"/>
<rect x="443" y="150" width="5" height="1" fill="#fff"/>
<rect x="443" y="156" width="5" height="1" fill="#fff"/>
<rect x="443" y="161" width="5" height="2" fill="#fff"/>
<rect x="443" y="167" width="5" height="1" fill="#fff"/>
<rect x="444" y="152" width="3" height="3" fill="#fff"/>
<rect x="48" y="341" width="7" height="26" fill="#000"/>
<rect x="49" y="342" width="5" height="2" fill="#fff"/>
<rect x="49" y="348" width="5" height="1" fill="#fff"/>
<rect x="49" y="354" width="5" height="1" fill="#fff"/>
<rect x="49" y="359" width="5" height="2" fill="#fff"/>
<rect x="49" y="365" width="5" height="1" fill="#fff"/>
<rect x="50" y="345" width="3" height="2" fill="#fff"/>
<rect x="62" y="341" width="7" height="31" fill="#000"/>
<rect x="63" y="342" width="5" height="1" fill="#fff"/>
<rect x="63" y="347" width="5" height="1" fill="#fff"/>
<rect x="63" y="353" width="5" height="1" fill="#fff"/>
<rect x="63" y="359" width="5" height="1" fill="#fff"/>
<rect x="63" y="364" width="5" height="2" fill="#fff"/>
<rect x="63" y="370" width="5" height="1" fill="#fff"/>
<rect x="64" y="344" width="3" height="2" fill="#fff"/>
<rect x="78" y="341" width="6" height="14" fill="#000"/>
<rect x="79" y="342" width="4" height="1" fill="#fff"/>
<rect x="79" y="347" width="4" height="1" fill="#fff"/>
<rect x="79" y="353" width="4" height="1" fill="#fff"/>
<rect x="78" y="363" width="6" height="14" fill="#000"/>
<rect x="79" y="364" width="4" height="1" fill="#fff"/>
<rect x="79" y="370" width="4" height="1" fill="#fff"/>
<rect x="79" y="375" width="4" height="1" fill="#fff"/>
<rect x="48" y="379" width="7" height="14" fill="#000"/>
<rect x="49" y="380" width="5" height="1" fill="#fff"/>
<rect x="49" y="385" width="5" height="2" fill="#fff"/>
<rect x="49" y="391" width="5" height="1" fill="#fff"/>
<rect x="91" y="341" width="7" height="26" fill="#000"/>
<rect x="92" y="342" width="5" height="24" fill="#fff"/>
<rect x="92" y="349" width="4" height="5" fill="#000"/>
<rect x="92" y="355" width="4" height="4" fill="#000"/>
<rect x="92" y="361" width="4" height="4" fill="#000"/>
<rect x="93" y="344" width="3" height="4" fill="#000"/>
<rect x="94" y="345" width="1" height="2" fill="#fff"/>
<rect x="275" y="422" width="7" height="19" fill="#000"/>
<rect x="276" y="423" width="5" height="1" fill="#fff"/>
<rect x="276" y="429" width="5" height="1" fill="#fff"/>
<rect x="276" y="434" width="5" height="2" fill="#fff"/>
<rect x="277" y="425" width="3" height="3" fill="#fff"/>
<rect x="275" y="455" width="7" height="19" fill="#000"/>
<rect x="276" y="461" width="5" height="1" fill="#fff"/>
<rect x="276" y="467" width="5" height="1" fill="#fff"/>
<rect x="277" y="457" width="3" height="3" fill="#fff"/>
<rect x="322" y="708" width="7" height="14" fill="#000"/>
<rect x="323" y="709" width="5" height="1" fill="#fff"/>
<rect x="323" y="714" width="5" height="2" fill="#fff"/>
<rect x="323" y="720" width="5" height="1" fill="#fff"/>
<rect x="338" y="708" width="7" height="14" fill="#000"/>
<rect x="339" y="709" width="5" height="12" fill="#fff"/>
<rect x="340" y="710" width="4" height="4" fill="#000"/>
<rect x="340" y="716" width="4" height="4" fill="#000"/>
<rect x="795" y="421" width="7" height="31" fill="#000"/>
<rect x="796" y="422" width="5" height="1" fill="#fff"/>
<rect x="796" y="428" width="5" height="1" fill="#fff"/>
<rect x="796" y="433" width="5" height="2" fill="#fff"/>
<rect x="796" y="439" width="5" height="2" fill="#fff"/>
<rect x="796" y="445" width="5" height="1" fill="#fff"/>
<rect x="797" y="424" width="3" height="3" fill="#fff"/>
<rect x="174" y="100.5" width="34" height="19" fill="#000"/>
<rect x="175.5" y="102.5" width="31" height="15" fill="#fff" stroke="#000" stroke-width="1"/>
<text x="177" y="115.012" font-size="14" text-anchor="start" fill="#000" textLength="24" lengthAdjust="spacingAndGlyphs">W15</text>
<polygon points="207,105.8 207,112.2 222.348,112.785 222.652,111.215" fill="#000"/>
<rect x="174" y="123" width="34" height="19" rx="3" fill="#000"/>
<rect x="176" y="125" width="29.4" height="14.4" rx="1.5" fill="#fff"/>
<text x="178" y="137.212" font-size="14" text-anchor="start" fill="#000" textLength="24" lengthAdjust="spacingAndGlyphs">W10</text>
<polygon points="206.5,126.8 206.5,137.2 234.557,130.798 234.443,129.202" fill="#000"/>
<polygon points="203.508,128.814 203.508,135.614 206.5,135.4 220.5,131 206.5,128.6" fill="#fff"/>
<rect x="174" y="143" width="34" height="19" rx="3" fill="#000"/>
<rect x="176" y="145" width="29.4" height="14.4" rx="1.5" fill="#fff"/>
<text x="177.75" y="157.212" font-size="14" text-anchor="start" fill="#000" textLength="24.5" lengthAdjust="spacingAndGlyphs">W14</text>
<polygon points="206.5,148.8 206.5,158.2 222.329,147.229 221.671,145.771" fill="#000"/>
<polygon points="203.766,151.835 203.766,157.635 206.5,156.4 214.25,150 206.5,150.6" fill="#fff"/>
<rect x="271" y="123" width="33" height="19" rx="3" fill="#000"/>
<rect x="273" y="125" width="28.4" height="14.4" rx="1.5" fill="#fff"/>
<text x="278" y="137.212" font-size="14" text-anchor="start" fill="#000" textLength="17" lengthAdjust="spacingAndGlyphs">W9</text>
<polygon points="272.5,126.8 272.5,137.2 255.407,130.795 255.593,129.205" fill="#000"/>
<polygon points="275.479,128.951 275.479,135.751 272.5,135.4 264,131 272.5,128.6" fill="#fff"/>
<rect x="260" y="143" width="44" height="19" rx="3" fill="#000"/>
<rect x="262" y="145" width="39.4" height="14.4" rx="1.5" fill="#fff"/>
<text x="265.25" y="157.212" font-size="14" text-anchor="start" fill="#000" textLength="31.5" lengthAdjust="spacingAndGlyphs">W501</text>
<polygon points="261.5,147.3 261.5,157.2 243.219,146.249 243.781,144.751" fill="#000"/>
<polygon points="264.309,150.153 264.309,156.453 261.5,155.4 252.5,148.875 261.5,149.1" fill="#fff"/>
<rect x="432" y="187" width="31" height="19" rx="3" fill="#000"/>
<rect x="434" y="189" width="26.4" height="14.4" rx="1.5" fill="#fff"/>
<text x="438" y="201.212" font-size="14" text-anchor="start" fill="#000" textLength="17" lengthAdjust="spacingAndGlyphs">W2</text>
<polygon points="443.3,187.5 451.2,187.5 445.794,169.401 444.206,169.599" fill="#000"/>
<polygon points="445.472,190.477 449.772,190.477 449.4,187.5 446.125,178.5 445.1,187.5" fill="#fff"/>
<rect x="19" y="305" width="31" height="18.5" rx="3" fill="#000"/>
<rect x="21" y="307" width="26.4" height="13.9" rx="1.5" fill="#fff"/>
<text x="27.25" y="318.962" font-size="14" text-anchor="start" fill="#000" textLength="12.5" lengthAdjust="spacingAndGlyphs">J8</text>
<polygon points="30.8,322.5 43.2,322.5 53.5826,338.952 52.4174,340.048" fill="#000"/>
<polygon points="30.5439,320.315 39.3439,320.315 41.4,322.5 45,331 32.6,322.5" fill="#fff"/>
<rect x="53" y="305" width="30" height="18.5" rx="3" fill="#000"/>
<rect x="55" y="307" width="25.4" height="13.9" rx="1.5" fill="#fff"/>
<text x="60.75" y="318.962" font-size="14" text-anchor="start" fill="#000" textLength="12.5" lengthAdjust="spacingAndGlyphs">J5</text>
<polygon points="63.3,322.5 70.2,322.5 66.4986,340.547 64.9014,340.453" fill="#000"/>
<polygon points="65.2747,319.505 68.5747,319.505 68.4,322.5 66.225,331.5 65.1,322.5" fill="#fff"/>
<rect x="85.5" y="305" width="30.5" height="18.5" rx="3" fill="#000"/>
<rect x="87.5" y="307" width="25.9" height="13.9" rx="1.5" fill="#fff"/>
<text x="91.5" y="318.962" font-size="14" text-anchor="start" fill="#000" textLength="16.5" lengthAdjust="spacingAndGlyphs">W1</text>
<polygon points="96.3,322.5 104.7,322.5 82.2451,340.586 81.1549,339.414" fill="#000"/>
<polygon points="100.296,320.456 105.096,320.456 102.9,322.5 91.1,331.25 98.1,322.5" fill="#fff"/>
<rect x="113" y="345" width="32" height="18.5" rx="3" fill="#000"/>
<rect x="115" y="347" width="27.4" height="13.9" rx="1.5" fill="#fff"/>
<text x="118.75" y="358.962" font-size="14" text-anchor="start" fill="#000" textLength="18.5" lengthAdjust="spacingAndGlyphs">J60</text>
<polygon points="114.5,348.8 114.5,358.2 98,354.3 98,352.7" fill="#000"/>
<polygon points="117.5,350.6 117.5,356.4 114.5,356.4 106.25,353.5 114.5,350.6" fill="#fff"/>
<rect x="43" y="411" width="31" height="17.5" rx="3" fill="#000"/>
<rect x="45" y="413" width="26.4" height="12.9" rx="1.5" fill="#fff"/>
<text x="49" y="424.462" font-size="14" text-anchor="start" fill="#000" textLength="17" lengthAdjust="spacingAndGlyphs">W4</text>
<polygon points="54.3,412 62.2,412 51.446,392.211 49.954,392.789" fill="#000"/>
<polygon points="57.1832,414.798 61.4832,414.798 60.4,412 54.475,402.25 56.1,412" fill="#fff"/>
<rect x="77.5" y="411" width="31" height="17.5" rx="3" fill="#000"/>
<rect x="79.5" y="413" width="26.4" height="12.9" rx="1.5" fill="#fff"/>
<text x="83.5" y="424.462" font-size="14" text-anchor="start" fill="#000" textLength="17" lengthAdjust="spacingAndGlyphs">W5</text>
<polygon points="87.3,412 97.2,412 81.5582,377.745 80.0418,378.255" fill="#000"/>
<polygon points="90.0575,414.843 96.3575,414.843 95.4,412 86.525,395 89.1,412" fill="#fff"/>
<rect x="299" y="423" width="49" height="19" rx="3" fill="#000"/>
<rect x="301" y="425" width="44.4" height="14.4" rx="1.5" fill="#fff"/>
<text x="306.5" y="437.212" font-size="14" text-anchor="start" fill="#000" textLength="32" lengthAdjust="spacingAndGlyphs">W500</text>
<polygon points="298.5,426.8 298.5,437.2 283.5,432.8 283.5,431.2" fill="#000"/>
<polygon points="301.5,428.6 301.5,435.4 298.5,435.4 291,432 298.5,428.6" fill="#fff"/>
<rect x="299" y="455.5" width="49" height="18.5" rx="3" fill="#000"/>
<rect x="301" y="457.5" width="44.4" height="13.9" rx="1.5" fill="#fff"/>
<text x="306.5" y="469.462" font-size="14" text-anchor="start" fill="#000" textLength="32" lengthAdjust="spacingAndGlyphs">W510</text>
<polygon points="298.5,459.3 298.5,469.7 283.5,465.3 283.5,463.7" fill="#000"/>
<polygon points="301.5,461.1 301.5,467.9 298.5,467.9 291,464.5 298.5,461.1" fill="#fff"/>
<rect x="285" y="671" width="48" height="19" rx="3" fill="#000"/>
<rect x="287" y="673" width="43.4" height="14.4" rx="1.5" fill="#fff"/>
<text x="292.25" y="685.212" font-size="14" text-anchor="start" fill="#000" textLength="31.5" lengthAdjust="spacingAndGlyphs">W603</text>
<polygon points="319.8,689.5 329.7,689.5 325.8,707.489 324.2,707.511" fill="#000"/>
<polygon points="321.558,686.5 327.858,686.5 327.9,689.5 324.875,698.5 321.6,689.5" fill="#fff"/>
<rect x="334.5" y="671" width="20" height="19" rx="3" fill="#000"/>
<rect x="345" y="671" width="8" height="19" fill="#000"/>
<rect x="337" y="674" width="43" height="13" fill="#fff"/>
<rect x="336.5" y="673" width="10" height="14.5" rx="1.5" fill="#fff"/>
<text x="340" y="685" font-size="14" text-anchor="start" fill="#000" textLength="31.5" lengthAdjust="spacingAndGlyphs">W604</text>
<polygon points="339.3,689.5 346.2,689.5 342.599,707.542 341.001,707.458" fill="#000"/>
<polygon points="341.258,686.504 344.558,686.504 344.4,689.5 342.275,698.5 341.1,689.5" fill="#fff"/>
<rect x="414" y="640" width="38.5" height="18" rx="3" fill="#000"/>
<rect x="416" y="642" width="33.9" height="13.4" rx="1.5" fill="#fff"/>
<text x="418.75" y="653.712" font-size="14" text-anchor="start" fill="#000" textLength="27" lengthAdjust="spacingAndGlyphs">J607</text>
<polygon points="433.3,640.5 442.2,640.5 440.097,622.569 438.503,622.431" fill="#000"/>
<polygon points="434.843,643.489 440.143,643.489 440.4,640.5 438.525,631.5 435.1,640.5" fill="#fff"/>
<rect x="550" y="640" width="38" height="18" rx="3" fill="#000"/>
<rect x="552" y="642" width="33.4" height="13.4" rx="1.5" fill="#fff"/>
<text x="554.5" y="653.712" font-size="14" text-anchor="start" fill="#000" textLength="27" lengthAdjust="spacingAndGlyphs">J606</text>
<polygon points="570,641 574,641 596,623 594,622" fill="#000"/>
<rect x="771" y="542" width="38" height="18.5" rx="3" fill="#000"/>
<rect x="773" y="544" width="33.4" height="13.9" rx="1.5" fill="#fff"/>
<text x="775.5" y="555.962" font-size="14" text-anchor="start" fill="#000" textLength="27" lengthAdjust="spacingAndGlyphs">J609</text>
<polygon points="789.8,543.5 799.7,543.5 796.498,531.563 794.902,531.437" fill="#000"/>
<polygon points="791.363,546.491 797.663,546.491 797.9,543.5 795.225,537.5 791.6,543.5" fill="#fff"/>
<rect x="739" y="596" width="38" height="19" rx="3" fill="#000"/>
<rect x="741" y="598" width="33.4" height="14.4" rx="1.5" fill="#fff"/>
<text x="743.25" y="610.212" font-size="14" text-anchor="start" fill="#000" textLength="27.5" lengthAdjust="spacingAndGlyphs">J610</text>
<polygon points="757.8,597.5 766.7,597.5 764.796,579.075 763.204,578.925" fill="#000"/>
<polygon points="759.317,600.487 764.617,600.487 764.9,597.5 763.125,588.25 759.6,597.5" fill="#fff"/>
<rect x="781" y="596" width="38" height="19" rx="3" fill="#000"/>
<rect x="783" y="598" width="33.4" height="14.4" rx="1.5" fill="#fff"/>
<text x="785.75" y="610.212" font-size="14" text-anchor="start" fill="#000" textLength="26.5" lengthAdjust="spacingAndGlyphs">J611</text>
<polygon points="801.3,597.5 811.2,597.5 817.692,579.402 816.308,578.598" fill="#000"/>
<polygon points="801.593,600.094 807.893,600.094 809.4,597.5 811.625,588.25 803.1,597.5" fill="#fff"/>
<rect x="812" y="643" width="31" height="19" rx="3" fill="#000"/>
<rect x="814" y="645" width="26.4" height="14.4" rx="1.5" fill="#fff"/>
<text x="820.25" y="657.212" font-size="14" text-anchor="start" fill="#000" textLength="12.5" lengthAdjust="spacingAndGlyphs">J9</text>
<polygon points="822.8,644.5 832.2,644.5 827.299,625.458 825.701,625.542" fill="#000"/>
<polygon points="824.758,647.496 830.558,647.496 830.4,644.5 827,635 824.6,644.5" fill="#fff"/>
<rect x="748" y="440" width="31" height="18" rx="3" fill="#000"/>
<rect x="750" y="442" width="26.4" height="13.4" rx="1.5" fill="#fff"/>
<text x="756.25" y="453.712" font-size="14" text-anchor="start" fill="#000" textLength="12.5" lengthAdjust="spacingAndGlyphs">J6</text>
<polygon points="777.5,441.8 777.5,452.2 795.391,437.898 794.609,436.502" fill="#000"/>
<polygon points="774.882,445.066 774.882,451.866 777.5,450.4 786.25,442.1 777.5,443.6" fill="#fff"/>
<rect x="718" y="347" width="38" height="19" rx="3" fill="#000"/>
<rect x="720" y="349" width="33.4" height="14.4" rx="1.5" fill="#fff"/>
<text x="722.75" y="361.212" font-size="14" text-anchor="start" fill="#000" textLength="26.5" lengthAdjust="spacingAndGlyphs">SW1</text>
<polygon points="728.3,364.5 736.7,364.5 732.098,382.553 730.502,382.447" fill="#000"/>
<polygon points="730.3,361.507 735.1,361.507 734.9,364.5 731.9,373.5 730.1,364.5" fill="#fff"/>
<rect x="766" y="355" width="38.5" height="18.5" rx="3" fill="#000"/>
<rect x="768" y="357" width="33.9" height="13.9" rx="1.5" fill="#fff"/>
<text x="771.5" y="368.962" font-size="14" text-anchor="start" fill="#000" textLength="25.5" lengthAdjust="spacingAndGlyphs">SW2</text>
<polygon points="776.5,372 783.5,372 768.2,426.5 765.8,426.5" fill="#000"/>
<polygon points="779,371 781.3,371 774.5,395 773.8,395" fill="#fff"/>
<rect x="698" y="385" width="68" height="19" fill="#000"/>
<rect x="699" y="386" width="66" height="17" fill="#fff"/>
<rect x="703" y="389" width="6" height="11" fill="#000"/>
<rect x="710" y="389" width="6" height="11" fill="#000"/>
<rect x="717" y="389" width="6" height="11" fill="#000"/>
<rect x="725" y="389" width="6" height="11" fill="#000"/>
<rect x="732" y="389" width="6" height="11" fill="#000"/>
<rect x="739" y="389" width="6" height="11" fill="#000"/>
<rect x="747" y="389" width="6" height="11" fill="#000"/>
<rect x="754" y="389" width="6" height="11" fill="#000"/>
<rect x="755" y="390" width="4" height="9" fill="#fff"/>
<circle cx="762.4" cy="400.6" r="1.8" fill="#fff" stroke="#000" stroke-width="1" shape-rendering="geometricPrecision"/>
<rect x="697" y="415" width="68" height="19" fill="#000"/>
<rect x="698" y="416" width="66" height="17" fill="#fff"/>
<rect x="702" y="419" width="6" height="11" fill="#000"/>
<rect x="709" y="419" width="6" height="11" fill="#000"/>
<rect x="716" y="419" width="6" height="11" fill="#000"/>
<rect x="724" y="419" width="6" height="11" fill="#000"/>
<rect x="731" y="419" width="6" height="11" fill="#000"/>
<rect x="738" y="419" width="6" height="11" fill="#000"/>
<rect x="746" y="419" width="6" height="11" fill="#000"/>
<rect x="753" y="419" width="6" height="11" fill="#000"/>
<rect x="754" y="420" width="4" height="9" fill="#fff"/>
<circle cx="761.8" cy="430.7" r="1.8" fill="#fff" stroke="#000" stroke-width="1" shape-rendering="geometricPrecision"/>
<rect x="816" y="386" width="30" height="37" fill="#000"/>
<rect x="840" y="382" width="6" height="46" fill="#000"/>
<rect x="843" y="379" width="3" height="51" fill="#000"/>
<rect x="809.5" y="395.5" width="6" height="7" fill="#fff" stroke="#000"/>
<rect x="809.5" y="406.5" width="6" height="8" fill="#fff" stroke="#000"/>
<rect x="702" y="461" width="112" height="25" fill="#000"/>
<rect x="703" y="462" width="110" height="23" fill="#fff"/>
<rect x="702" y="469" width="112" height="1" fill="#000"/>
<ellipse cx="707.4" cy="466.6" rx="3.1" ry="2" fill="#fff" stroke="#000" stroke-width="1.2" shape-rendering="geometricPrecision"/>
<rect x="704" y="472" width="7" height="2" fill="#000"/>
<ellipse cx="716.67" cy="466.6" rx="3.1" ry="2" fill="#fff" stroke="#000" stroke-width="1.2" shape-rendering="geometricPrecision"/>
<rect x="713" y="472" width="7" height="2" fill="#000"/>
<ellipse cx="725.94" cy="466.6" rx="3.1" ry="2" fill="#fff" stroke="#000" stroke-width="1.2" shape-rendering="geometricPrecision"/>
<rect x="722" y="472" width="7" height="2" fill="#000"/>
<ellipse cx="735.21" cy="466.6" rx="3.1" ry="2" fill="#fff" stroke="#000" stroke-width="1.2" shape-rendering="geometricPrecision"/>
<rect x="732" y="472" width="7" height="2" fill="#000"/>
<ellipse cx="744.48" cy="466.6" rx="3.1" ry="2" fill="#fff" stroke="#000" stroke-width="1.2" shape-rendering="geometricPrecision"/>
<rect x="741" y="472" width="7" height="2" fill="#000"/>
<ellipse cx="753.75" cy="466.6" rx="3.1" ry="2" fill="#fff" stroke="#000" stroke-width="1.2" shape-rendering="geometricPrecision"/>
<rect x="750" y="472" width="7" height="2" fill="#000"/>
<ellipse cx="763.02" cy="466.6" rx="3.1" ry="2" fill="#fff" stroke="#000" stroke-width="1.2" shape-rendering="geometricPrecision"/>
<rect x="760" y="472" width="7" height="2" fill="#000"/>
<ellipse cx="772.29" cy="466.6" rx="3.1" ry="2" fill="#fff" stroke="#000" stroke-width="1.2" shape-rendering="geometricPrecision"/>
<rect x="769" y="472" width="7" height="2" fill="#000"/>
<ellipse cx="781.56" cy="466.6" rx="3.1" ry="2" fill="#fff" stroke="#000" stroke-width="1.2" shape-rendering="geometricPrecision"/>
<rect x="778" y="472" width="7" height="2" fill="#000"/>
<ellipse cx="790.83" cy="466.6" rx="3.1" ry="2" fill="#fff" stroke="#000" stroke-width="1.2" shape-rendering="geometricPrecision"/>
<rect x="787" y="472" width="7" height="2" fill="#000"/>
<ellipse cx="800.1" cy="466.6" rx="3.1" ry="2" fill="#fff" stroke="#000" stroke-width="1.2" shape-rendering="geometricPrecision"/>
<rect x="797" y="472" width="7" height="2" fill="#000"/>
<ellipse cx="809.37" cy="466.6" rx="3.1" ry="2" fill="#fff" stroke="#000" stroke-width="1.2" shape-rendering="geometricPrecision"/>
<rect x="806" y="472" width="7" height="2" fill="#000"/>
<rect x="708" y="475" width="7" height="8" fill="#000"/>
<rect x="709" y="476" width="5" height="6" fill="#fff"/>
<rect x="717" y="475" width="7" height="8" fill="#000"/>
<rect x="718" y="476" width="5" height="6" fill="#fff"/>
<rect x="727" y="475" width="7" height="8" fill="#000"/>
<rect x="728" y="476" width="5" height="6" fill="#fff"/>
<rect x="736" y="475" width="7" height="8" fill="#000"/>
<rect x="737" y="476" width="5" height="6" fill="#fff"/>
<rect x="745" y="475" width="7" height="8" fill="#000"/>
<rect x="746" y="476" width="5" height="6" fill="#fff"/>
<rect x="755" y="475" width="7" height="8" fill="#000"/>
<rect x="756" y="476" width="5" height="6" fill="#fff"/>
<rect x="764" y="475" width="7" height="8" fill="#000"/>
<rect x="765" y="476" width="5" height="6" fill="#fff"/>
<rect x="773" y="475" width="7" height="8" fill="#000"/>
<rect x="774" y="476" width="5" height="6" fill="#fff"/>
<rect x="783" y="475" width="7" height="8" fill="#000"/>
<rect x="784" y="476" width="5" height="6" fill="#fff"/>
<rect x="792" y="475" width="7" height="8" fill="#000"/>
<rect x="793" y="476" width="5" height="6" fill="#fff"/>
<rect x="802" y="475" width="7" height="8" fill="#000"/>
<rect x="803" y="476" width="5" height="6" fill="#fff"/>
<rect x="702" y="477" width="1" height="5" fill="#fff"/>
<rect x="703" y="476" width="1" height="1" fill="#000"/>
<rect x="703" y="482" width="1" height="1" fill="#000"/>
<rect x="704" y="476" width="1" height="7" fill="#000"/>
<rect x="703" y="479" width="2" height="1" fill="#fff"/>
<rect x="813" y="477" width="1" height="5" fill="#fff"/>
<rect x="811" y="476" width="1" height="7" fill="#000"/>
<rect x="393" y="609" width="102" height="12" fill="#000"/>
<rect x="395" y="614" width="98" height="1" fill="#fff"/>
<rect x="394" y="610" width="1" height="10" fill="#fff"/>
<rect x="400" y="610" width="1" height="10" fill="#fff"/>
<rect x="406" y="610" width="1" height="10" fill="#fff"/>
<rect x="412" y="610" width="1" height="10" fill="#fff"/>
<rect x="418" y="610" width="1" height="10" fill="#fff"/>
<rect x="424" y="610" width="1" height="10" fill="#fff"/>
<rect x="430" y="610" width="1" height="10" fill="#fff"/>
<rect x="436" y="610" width="1" height="10" fill="#fff"/>
<rect x="442" y="610" width="1" height="10" fill="#fff"/>
<rect x="447" y="610" width="1" height="10" fill="#fff"/>
<rect x="453" y="610" width="2" height="10" fill="#fff"/>
<rect x="459" y="610" width="2" height="10" fill="#fff"/>
<rect x="465" y="610" width="2" height="10" fill="#fff"/>
<rect x="471" y="610" width="1" height="10" fill="#fff"/>
<rect x="477" y="610" width="1" height="10" fill="#fff"/>
<rect x="483" y="610" width="1" height="10" fill="#fff"/>
<rect x="489" y="610" width="1" height="10" fill="#fff"/>
<rect x="490" y="611" width="3" height="2" fill="#fff"/>
<rect x="538" y="609" width="120" height="12" fill="#000"/>
<rect x="540" y="614" width="116" height="1" fill="#fff"/>
<rect x="539" y="610" width="1" height="10" fill="#fff"/>
<rect x="545" y="610" width="1" height="10" fill="#fff"/>
<rect x="551" y="610" width="1" height="10" fill="#fff"/>
<rect x="557" y="610" width="1" height="10" fill="#fff"/>
<rect x="563" y="610" width="1" height="10" fill="#fff"/>
<rect x="569" y="610" width="2" height="10" fill="#fff"/>
<rect x="575" y="610" width="2" height="10" fill="#fff"/>
<rect x="581" y="610" width="1" height="10" fill="#fff"/>
<rect x="587" y="610" width="1" height="10" fill="#fff"/>
<rect x="592" y="610" width="1" height="10" fill="#fff"/>
<rect x="598" y="610" width="1" height="10" fill="#fff"/>
<rect x="604" y="610" width="1" height="10" fill="#fff"/>
<rect x="610" y="610" width="1" height="10" fill="#fff"/>
<rect x="616" y="610" width="1" height="10" fill="#fff"/>
<rect x="622" y="610" width="1" height="10" fill="#fff"/>
<rect x="628" y="610" width="1" height="10" fill="#fff"/>
<rect x="634" y="610" width="1" height="10" fill="#fff"/>
<rect x="640" y="610" width="1" height="10" fill="#fff"/>
<rect x="646" y="610" width="1" height="10" fill="#fff"/>
<rect x="652" y="610" width="1" height="10" fill="#fff"/>
<rect x="653" y="611" width="2" height="3" fill="#fff"/>
<rect x="749" y="566" width="31" height="13" fill="#000"/>
<rect x="751" y="573" width="27" height="1" fill="#fff"/>
<rect x="750" y="567" width="1" height="11" fill="#fff"/>
<rect x="756" y="567" width="1" height="11" fill="#fff"/>
<rect x="762" y="567" width="1" height="11" fill="#fff"/>
<rect x="767" y="567" width="1" height="11" fill="#fff"/>
<rect x="773" y="567" width="1" height="11" fill="#fff"/>
<rect x="774" y="568" width="4" height="4" fill="#fff"/>
<rect x="801" y="566" width="31" height="13" fill="#000"/>
<rect x="803" y="573" width="27" height="1" fill="#fff"/>
<rect x="802" y="567" width="1" height="11" fill="#fff"/>
<rect x="808" y="567" width="1" height="11" fill="#fff"/>
<rect x="814" y="567" width="1" height="11" fill="#fff"/>
<rect x="819" y="567" width="1" height="11" fill="#fff"/>
<rect x="825" y="567" width="1" height="11" fill="#fff"/>
<rect x="827" y="568" width="3" height="4" fill="#fff"/>
<rect x="814" y="619" width="26" height="6" fill="#000"/>
<rect x="815" y="620" width="1" height="4" fill="#fff"/>
<rect x="820" y="620" width="1" height="4" fill="#fff"/>
<rect x="826" y="620" width="1" height="4" fill="#fff"/>
<rect x="832" y="620" width="1" height="4" fill="#fff"/>
<rect x="838" y="620" width="1" height="4" fill="#fff"/>
<rect x="834" y="621" width="3" height="1" fill="#fff"/>
<rect x="821" y="620" width="1" height="4" fill="#fff"/>
<rect x="757" y="518" width="78" height="13" fill="#000"/>
<rect x="758" y="519" width="76" height="11" fill="#fff"/>
<rect x="759" y="519" width="4" height="4" fill="#000"/>
<rect x="759" y="525" width="4" height="4" fill="#000"/>
<rect x="765" y="519" width="4" height="4" fill="#000"/>
<rect x="765" y="525" width="4" height="4" fill="#000"/>
<rect x="771" y="519" width="4" height="4" fill="#000"/>
<rect x="771" y="525" width="4" height="4" fill="#000"/>
<rect x="777" y="519" width="4" height="4" fill="#000"/>
<rect x="777" y="525" width="4" height="4" fill="#000"/>
<rect x="782" y="519" width="4" height="4" fill="#000"/>
<rect x="782" y="525" width="4" height="4" fill="#000"/>
<rect x="788" y="519" width="4" height="4" fill="#000"/>
<rect x="788" y="525" width="4" height="4" fill="#000"/>
<rect x="794" y="519" width="4" height="4" fill="#000"/>
<rect x="794" y="525" width="4" height="4" fill="#000"/>
<rect x="800" y="519" width="4" height="4" fill="#000"/>
<rect x="800" y="525" width="4" height="4" fill="#000"/>
<rect x="806" y="519" width="4" height="4" fill="#000"/>
<rect x="806" y="525" width="4" height="4" fill="#000"/>
<rect x="812" y="519" width="4" height="4" fill="#000"/>
<rect x="812" y="525" width="4" height="4" fill="#000"/>
<rect x="817" y="519" width="4" height="4" fill="#000"/>
<rect x="817" y="525" width="4" height="4" fill="#000"/>
<rect x="823" y="519" width="4" height="4" fill="#000"/>
<rect x="823" y="525" width="4" height="4" fill="#000"/>
<rect x="829" y="519" width="4" height="4" fill="#000"/>
<rect x="829" y="525" width="4" height="4" fill="#000"/>
<rect x="830" y="520" width="3" height="2" fill="#fff"/>
<defs><pattern id="st" width="2" height="2" patternUnits="userSpaceOnUse"><rect width="2" height="2" fill="#fff"/><rect width="1" height="1" fill="#000"/></pattern></defs>
<path d="M705 538.5 H723 L726 539.5 L727.5 542 V545 L726.5 547 V552 L725.5 553 L726.5 555 V557 L727.5 558.5 L726.5 560 V565 L725.5 566 L726.5 567.5 V572 L727.5 574 V576 L725 578.5 H703.5 L701.5 576 V570 L702.5 568 V560 L700.5 558.5 L702.5 557 V548 L701.5 546 V542 L702.5 539.5 Z" fill="url(#st)" stroke="#000" stroke-width="1"/>
<rect x="359.5" y="353.5" width="334.25" height="225.0" fill="#fff" stroke="#000"/>
<rect x="359" y="361" width="335" height="3.5" fill="#000"/>
<rect x="359" y="567.5" width="335" height="2" fill="#000"/>
<rect x="359" y="570.5" width="335" height="1" fill="#000"/>
<line x1="366.5" y1="353.5" x2="366.5" y2="361" stroke="#000" stroke-width="1"/>
<line x1="366.5" y1="571" x2="366.5" y2="578.5" stroke="#000" stroke-width="1"/>
<line x1="373.5" y1="353.5" x2="373.5" y2="361" stroke="#000" stroke-width="1"/>
<line x1="373.5" y1="571" x2="373.5" y2="578.5" stroke="#000" stroke-width="1"/>
<line x1="391.5" y1="353.5" x2="391.5" y2="361" stroke="#000" stroke-width="1"/>
<line x1="391.5" y1="571" x2="391.5" y2="578.5" stroke="#000" stroke-width="1"/>
<line x1="398.5" y1="353.5" x2="398.5" y2="361" stroke="#000" stroke-width="1"/>
<line x1="398.5" y1="571" x2="398.5" y2="578.5" stroke="#000" stroke-width="1"/>
<rect x="362" y="379" width="13" height="174" fill="#000"/>
<line x1="375.5" y1="379" x2="375.5" y2="553" stroke="#000" stroke-width="1" stroke-dasharray="1.5 1.4"/>
<rect x="368" y="382" width="5.5" height="4" fill="#fff"/>
<rect x="363" y="383.5" width="4" height="1.3" fill="#fff"/>
<rect x="368" y="388" width="5.5" height="4" fill="#fff"/>
<rect x="363" y="389.5" width="4" height="1.3" fill="#fff"/>
<rect x="368" y="394" width="5.5" height="4" fill="#fff"/>
<rect x="363" y="395.5" width="4" height="1.3" fill="#fff"/>
<rect x="368" y="400" width="5.5" height="4" fill="#fff"/>
<rect x="363" y="401.5" width="4" height="1.3" fill="#fff"/>
<rect x="368" y="406" width="5.5" height="4" fill="#fff"/>
<rect x="363" y="407.5" width="4" height="1.3" fill="#fff"/>
<rect x="368" y="411" width="5.5" height="4" fill="#fff"/>
<rect x="363" y="412.5" width="4" height="1.3" fill="#fff"/>
<rect x="368" y="417" width="5.5" height="4" fill="#fff"/>
<rect x="363" y="418.5" width="4" height="1.3" fill="#fff"/>
<rect x="368" y="423" width="5.5" height="4" fill="#fff"/>
<rect x="363" y="424.5" width="4" height="1.3" fill="#fff"/>
<rect x="368" y="429" width="5.5" height="4" fill="#fff"/>
<rect x="363" y="430.5" width="4" height="1.3" fill="#fff"/>
<rect x="368" y="435" width="5.5" height="4" fill="#fff"/>
<rect x="363" y="436.5" width="4" height="1.3" fill="#fff"/>
<rect x="368" y="441" width="5.5" height="4" fill="#fff"/>
<rect x="363" y="442.5" width="4" height="1.3" fill="#fff"/>
<rect x="368" y="447" width="5.5" height="4" fill="#fff"/>
<rect x="363" y="448.5" width="4" height="1.3" fill="#fff"/>
<rect x="368" y="453" width="5.5" height="4" fill="#fff"/>
<rect x="363" y="454.5" width="4" height="1.3" fill="#fff"/>
<rect x="368" y="458" width="5.5" height="4" fill="#fff"/>
<rect x="363" y="459.5" width="4" height="1.3" fill="#fff"/>
<rect x="368" y="464" width="5.5" height="4" fill="#fff"/>
<rect x="363" y="465.5" width="4" height="1.3" fill="#fff"/>
<rect x="368" y="470" width="5.5" height="4" fill="#fff"/>
<rect x="363" y="471.5" width="4" height="1.3" fill="#fff"/>
<rect x="368" y="476" width="5.5" height="4" fill="#fff"/>
<rect x="363" y="477.5" width="4" height="1.3" fill="#fff"/>
<rect x="368" y="482" width="5.5" height="4" fill="#fff"/>
<rect x="363" y="483.5" width="4" height="1.3" fill="#fff"/>
<rect x="368" y="488" width="5.5" height="4" fill="#fff"/>
<rect x="363" y="489.5" width="4" height="1.3" fill="#fff"/>
<rect x="368" y="494" width="5.5" height="4" fill="#fff"/>
<rect x="363" y="495.5" width="4" height="1.3" fill="#fff"/>
<rect x="368" y="500" width="5.5" height="4" fill="#fff"/>
<rect x="363" y="501.5" width="4" height="1.3" fill="#fff"/>
<rect x="368" y="505" width="5.5" height="4" fill="#fff"/>
<rect x="363" y="506.5" width="4" height="1.3" fill="#fff"/>
<rect x="368" y="511" width="5.5" height="4" fill="#fff"/>
<rect x="363" y="512.5" width="4" height="1.3" fill="#fff"/>
<rect x="368" y="517" width="5.5" height="4" fill="#fff"/>
<rect x="363" y="518.5" width="4" height="1.3" fill="#fff"/>
<rect x="368" y="523" width="5.5" height="4" fill="#fff"/>
<rect x="363" y="524.5" width="4" height="1.3" fill="#fff"/>
<rect x="368" y="529" width="5.5" height="4" fill="#fff"/>
<rect x="363" y="530.5" width="4" height="1.3" fill="#fff"/>
<rect x="368" y="535" width="5.5" height="4" fill="#fff"/>
<rect x="363" y="536.5" width="4" height="1.3" fill="#fff"/>
<rect x="368" y="541" width="5.5" height="4" fill="#fff"/>
<rect x="363" y="542.5" width="4" height="1.3" fill="#fff"/>
<rect x="368" y="547" width="5.5" height="4" fill="#fff"/>
<rect x="363" y="548.5" width="4" height="1.3" fill="#fff"/>
<rect x="386" y="379" width="13" height="174" fill="#000"/>
<line x1="399.5" y1="379" x2="399.5" y2="553" stroke="#000" stroke-width="1" stroke-dasharray="1.5 1.4"/>
<rect x="392" y="382" width="5.6" height="4" fill="#fff"/>
<rect x="387" y="383.5" width="4" height="1.3" fill="#fff"/>
<rect x="392" y="388" width="5.6" height="4" fill="#fff"/>
<rect x="387" y="389.5" width="4" height="1.3" fill="#fff"/>
<rect x="392" y="394" width="5.6" height="4" fill="#fff"/>
<rect x="387" y="395.5" width="4" height="1.3" fill="#fff"/>
<rect x="392" y="400" width="5.6" height="4" fill="#fff"/>
<rect x="387" y="401.5" width="4" height="1.3" fill="#fff"/>
<rect x="392" y="406" width="5.6" height="4" fill="#fff"/>
<rect x="387" y="407.5" width="4" height="1.3" fill="#fff"/>
<rect x="392" y="411" width="5.6" height="4" fill="#fff"/>
<rect x="387" y="412.5" width="4" height="1.3" fill="#fff"/>
<rect x="392" y="417" width="5.6" height="4" fill="#fff"/>
<rect x="387" y="418.5" width="4" height="1.3" fill="#fff"/>
<rect x="392" y="423" width="5.6" height="4" fill="#fff"/>
<rect x="387" y="424.5" width="4" height="1.3" fill="#fff"/>
<rect x="392" y="429" width="5.6" height="4" fill="#fff"/>
<rect x="387" y="430.5" width="4" height="1.3" fill="#fff"/>
<rect x="392" y="435" width="5.6" height="4" fill="#fff"/>
<rect x="387" y="436.5" width="4" height="1.3" fill="#fff"/>
<rect x="392" y="441" width="5.6" height="4" fill="#fff"/>
<rect x="387" y="442.5" width="4" height="1.3" fill="#fff"/>
<rect x="392" y="447" width="5.6" height="4" fill="#fff"/>
<rect x="387" y="448.5" width="4" height="1.3" fill="#fff"/>
<rect x="392" y="453" width="5.6" height="4" fill="#fff"/>
<rect x="387" y="454.5" width="4" height="1.3" fill="#fff"/>
<rect x="392" y="458" width="5.6" height="4" fill="#fff"/>
<rect x="387" y="459.5" width="4" height="1.3" fill="#fff"/>
<rect x="392" y="464" width="5.6" height="4" fill="#fff"/>
<rect x="387" y="465.5" width="4" height="1.3" fill="#fff"/>
<rect x="392" y="470" width="5.6" height="4" fill="#fff"/>
<rect x="387" y="471.5" width="4" height="1.3" fill="#fff"/>
<rect x="392" y="476" width="5.6" height="4" fill="#fff"/>
<rect x="387" y="477.5" width="4" height="1.3" fill="#fff"/>
<rect x="392" y="482" width="5.6" height="4" fill="#fff"/>
<rect x="387" y="483.5" width="4" height="1.3" fill="#fff"/>
<rect x="392" y="488" width="5.6" height="4" fill="#fff"/>
<rect x="387" y="489.5" width="4" height="1.3" fill="#fff"/>
<rect x="392" y="494" width="5.6" height="4" fill="#fff"/>
<rect x="387" y="495.5" width="4" height="1.3" fill="#fff"/>
<rect x="392" y="500" width="5.6" height="4" fill="#fff"/>
<rect x="387" y="501.5" width="4" height="1.3" fill="#fff"/>
<rect x="392" y="505" width="5.6" height="4" fill="#fff"/>
<rect x="387" y="506.5" width="4" height="1.3" fill="#fff"/>
<rect x="392" y="511" width="5.6" height="4" fill="#fff"/>
<rect x="387" y="512.5" width="4" height="1.3" fill="#fff"/>
<rect x="392" y="517" width="5.6" height="4" fill="#fff"/>
<rect x="387" y="518.5" width="4" height="1.3" fill="#fff"/>
<rect x="392" y="523" width="5.6" height="4" fill="#fff"/>
<rect x="387" y="524.5" width="4" height="1.3" fill="#fff"/>
<rect x="392" y="529" width="5.6" height="4" fill="#fff"/>
<rect x="387" y="530.5" width="4" height="1.3" fill="#fff"/>
<rect x="392" y="535" width="5.6" height="4" fill="#fff"/>
<rect x="387" y="536.5" width="4" height="1.3" fill="#fff"/>
<rect x="392" y="541" width="5.6" height="4" fill="#fff"/>
<rect x="387" y="542.5" width="4" height="1.3" fill="#fff"/>
<rect x="392" y="547" width="5.6" height="4" fill="#fff"/>
<rect x="387" y="548.5" width="4" height="1.3" fill="#fff"/>
<rect x="377.5" y="361.5" width="6" height="13.5" fill="#fff" stroke="#000"/>
<rect x="377.5" y="379.5" width="6" height="27.5" fill="#fff" stroke="#000"/>
<rect x="377.5" y="414.5" width="6" height="27.5" fill="#fff" stroke="#000"/>
<rect x="377.5" y="452.5" width="6" height="29.5" fill="#fff" stroke="#000"/>
<rect x="377.5" y="488.5" width="6" height="29.5" fill="#fff" stroke="#000"/>
<rect x="377.5" y="525.5" width="6" height="28" fill="#fff" stroke="#000"/>
<rect x="377.5" y="559.0" width="6" height="13.0" fill="#fff" stroke="#000"/>
<path d="M364.0 364.5 V368.0 H367.5 V371.5 H359.5 M365.5 371.5 V374.5 H374.5 V364.5" fill="none" stroke="#000" stroke-width="1"/>
<path d="M364.0 567.5 V564.0 H367.5 V560.5 H359.5 M365.5 560.5 V557.5 H374.5 V567.5" fill="none" stroke="#000" stroke-width="1"/>
<path d="M389.0 364.5 V368.0 H392.5 V371.5 H384.5 M390.5 371.5 V374.5 H399.5 V364.5 M384.5 364.5 V371.5" fill="none" stroke="#000" stroke-width="1"/>
<path d="M389.0 567.5 V564.0 H392.5 V560.5 H384.5 M390.5 560.5 V557.5 H399.5 V567.5 M384.5 567.5 V560.5" fill="none" stroke="#000" stroke-width="1"/>
<line x1="401.5" y1="353.5" x2="401.5" y2="578.5" stroke="#000" stroke-width="1"/>
<line x1="408.5" y1="353.5" x2="408.5" y2="361" stroke="#000" stroke-width="1"/>
<line x1="408.5" y1="571" x2="408.5" y2="578.5" stroke="#000" stroke-width="1"/>
<line x1="415.5" y1="353.5" x2="415.5" y2="361" stroke="#000" stroke-width="1"/>
<line x1="415.5" y1="571" x2="415.5" y2="578.5" stroke="#000" stroke-width="1"/>
<line x1="433.5" y1="353.5" x2="433.5" y2="361" stroke="#000" stroke-width="1"/>
<line x1="433.5" y1="571" x2="433.5" y2="578.5" stroke="#000" stroke-width="1"/>
<line x1="440.5" y1="353.5" x2="440.5" y2="361" stroke="#000" stroke-width="1"/>
<line x1="440.5" y1="571" x2="440.5" y2="578.5" stroke="#000" stroke-width="1"/>
<rect x="404" y="379" width="13" height="174" fill="#000"/>
<line x1="417.5" y1="379" x2="417.5" y2="553" stroke="#000" stroke-width="1" stroke-dasharray="1.5 1.4"/>
<rect x="410" y="382" width="5.5" height="4" fill="#fff"/>
<rect x="405" y="383.5" width="4" height="1.3" fill="#fff"/>
<rect x="410" y="388" width="5.5" height="4" fill="#fff"/>
<rect x="405" y="389.5" width="4" height="1.3" fill="#fff"/>
<rect x="410" y="394" width="5.5" height="4" fill="#fff"/>
<rect x="405" y="395.5" width="4" height="1.3" fill="#fff"/>
<rect x="410" y="400" width="5.5" height="4" fill="#fff"/>
<rect x="405" y="401.5" width="4" height="1.3" fill="#fff"/>
<rect x="410" y="406" width="5.5" height="4" fill="#fff"/>
<rect x="405" y="407.5" width="4" height="1.3" fill="#fff"/>
<rect x="410" y="411" width="5.5" height="4" fill="#fff"/>
<rect x="405" y="412.5" width="4" height="1.3" fill="#fff"/>
<rect x="410" y="417" width="5.5" height="4" fill="#fff"/>
<rect x="405" y="418.5" width="4" height="1.3" fill="#fff"/>
<rect x="410" y="423" width="5.5" height="4" fill="#fff"/>
<rect x="405" y="424.5" width="4" height="1.3" fill="#fff"/>
<rect x="410" y="429" width="5.5" height="4" fill="#fff"/>
<rect x="405" y="430.5" width="4" height="1.3" fill="#fff"/>
<rect x="410" y="435" width="5.5" height="4" fill="#fff"/>
<rect x="405" y="436.5" width="4" height="1.3" fill="#fff"/>
<rect x="410" y="441" width="5.5" height="4" fill="#fff"/>
<rect x="405" y="442.5" width="4" height="1.3" fill="#fff"/>
<rect x="410" y="447" width="5.5" height="4" fill="#fff"/>
<rect x="405" y="448.5" width="4" height="1.3" fill="#fff"/>
<rect x="410" y="453" width="5.5" height="4" fill="#fff"/>
<rect x="405" y="454.5" width="4" height="1.3" fill="#fff"/>
<rect x="410" y="458" width="5.5" height="4" fill="#fff"/>
<rect x="405" y="459.5" width="4" height="1.3" fill="#fff"/>
<rect x="410" y="464" width="5.5" height="4" fill="#fff"/>
<rect x="405" y="465.5" width="4" height="1.3" fill="#fff"/>
<rect x="410" y="470" width="5.5" height="4" fill="#fff"/>
<rect x="405" y="471.5" width="4" height="1.3" fill="#fff"/>
<rect x="410" y="476" width="5.5" height="4" fill="#fff"/>
<rect x="405" y="477.5" width="4" height="1.3" fill="#fff"/>
<rect x="410" y="482" width="5.5" height="4" fill="#fff"/>
<rect x="405" y="483.5" width="4" height="1.3" fill="#fff"/>
<rect x="410" y="488" width="5.5" height="4" fill="#fff"/>
<rect x="405" y="489.5" width="4" height="1.3" fill="#fff"/>
<rect x="410" y="494" width="5.5" height="4" fill="#fff"/>
<rect x="405" y="495.5" width="4" height="1.3" fill="#fff"/>
<rect x="410" y="500" width="5.5" height="4" fill="#fff"/>
<rect x="405" y="501.5" width="4" height="1.3" fill="#fff"/>
<rect x="410" y="505" width="5.5" height="4" fill="#fff"/>
<rect x="405" y="506.5" width="4" height="1.3" fill="#fff"/>
<rect x="410" y="511" width="5.5" height="4" fill="#fff"/>
<rect x="405" y="512.5" width="4" height="1.3" fill="#fff"/>
<rect x="410" y="517" width="5.5" height="4" fill="#fff"/>
<rect x="405" y="518.5" width="4" height="1.3" fill="#fff"/>
<rect x="410" y="523" width="5.5" height="4" fill="#fff"/>
<rect x="405" y="524.5" width="4" height="1.3" fill="#fff"/>
<rect x="410" y="529" width="5.5" height="4" fill="#fff"/>
<rect x="405" y="530.5" width="4" height="1.3" fill="#fff"/>
<rect x="410" y="535" width="5.5" height="4" fill="#fff"/>
<rect x="405" y="536.5" width="4" height="1.3" fill="#fff"/>
<rect x="410" y="541" width="5.5" height="4" fill="#fff"/>
<rect x="405" y="542.5" width="4" height="1.3" fill="#fff"/>
<rect x="410" y="547" width="5.5" height="4" fill="#fff"/>
<rect x="405" y="548.5" width="4" height="1.3" fill="#fff"/>
<rect x="428" y="379" width="13" height="174" fill="#000"/>
<line x1="441.5" y1="379" x2="441.5" y2="553" stroke="#000" stroke-width="1" stroke-dasharray="1.5 1.4"/>
<rect x="434" y="382" width="5.6" height="4" fill="#fff"/>
<rect x="429" y="383.5" width="4" height="1.3" fill="#fff"/>
<rect x="434" y="388" width="5.6" height="4" fill="#fff"/>
<rect x="429" y="389.5" width="4" height="1.3" fill="#fff"/>
<rect x="434" y="394" width="5.6" height="4" fill="#fff"/>
<rect x="429" y="395.5" width="4" height="1.3" fill="#fff"/>
<rect x="434" y="400" width="5.6" height="4" fill="#fff"/>
<rect x="429" y="401.5" width="4" height="1.3" fill="#fff"/>
<rect x="434" y="406" width="5.6" height="4" fill="#fff"/>
<rect x="429" y="407.5" width="4" height="1.3" fill="#fff"/>
<rect x="434" y="411" width="5.6" height="4" fill="#fff"/>
<rect x="429" y="412.5" width="4" height="1.3" fill="#fff"/>
<rect x="434" y="417" width="5.6" height="4" fill="#fff"/>
<rect x="429" y="418.5" width="4" height="1.3" fill="#fff"/>
<rect x="434" y="423" width="5.6" height="4" fill="#fff"/>
<rect x="429" y="424.5" width="4" height="1.3" fill="#fff"/>
<rect x="434" y="429" width="5.6" height="4" fill="#fff"/>
<rect x="429" y="430.5" width="4" height="1.3" fill="#fff"/>
<rect x="434" y="435" width="5.6" height="4" fill="#fff"/>
<rect x="429" y="436.5" width="4" height="1.3" fill="#fff"/>
<rect x="434" y="441" width="5.6" height="4" fill="#fff"/>
<rect x="429" y="442.5" width="4" height="1.3" fill="#fff"/>
<rect x="434" y="447" width="5.6" height="4" fill="#fff"/>
<rect x="429" y="448.5" width="4" height="1.3" fill="#fff"/>
<rect x="434" y="453" width="5.6" height="4" fill="#fff"/>
<rect x="429" y="454.5" width="4" height="1.3" fill="#fff"/>
<rect x="434" y="458" width="5.6" height="4" fill="#fff"/>
<rect x="429" y="459.5" width="4" height="1.3" fill="#fff"/>
<rect x="434" y="464" width="5.6" height="4" fill="#fff"/>
<rect x="429" y="465.5" width="4" height="1.3" fill="#fff"/>
<rect x="434" y="470" width="5.6" height="4" fill="#fff"/>
<rect x="429" y="471.5" width="4" height="1.3" fill="#fff"/>
<rect x="434" y="476" width="5.6" height="4" fill="#fff"/>
<rect x="429" y="477.5" width="4" height="1.3" fill="#fff"/>
<rect x="434" y="482" width="5.6" height="4" fill="#fff"/>
<rect x="429" y="483.5" width="4" height="1.3" fill="#fff"/>
<rect x="434" y="488" width="5.6" height="4" fill="#fff"/>
<rect x="429" y="489.5" width="4" height="1.3" fill="#fff"/>
<rect x="434" y="494" width="5.6" height="4" fill="#fff"/>
<rect x="429" y="495.5" width="4" height="1.3" fill="#fff"/>
<rect x="434" y="500" width="5.6" height="4" fill="#fff"/>
<rect x="429" y="501.5" width="4" height="1.3" fill="#fff"/>
<rect x="434" y="505" width="5.6" height="4" fill="#fff"/>
<rect x="429" y="506.5" width="4" height="1.3" fill="#fff"/>
<rect x="434" y="511" width="5.6" height="4" fill="#fff"/>
<rect x="429" y="512.5" width="4" height="1.3" fill="#fff"/>
<rect x="434" y="517" width="5.6" height="4" fill="#fff"/>
<rect x="429" y="518.5" width="4" height="1.3" fill="#fff"/>
<rect x="434" y="523" width="5.6" height="4" fill="#fff"/>
<rect x="429" y="524.5" width="4" height="1.3" fill="#fff"/>
<rect x="434" y="529" width="5.6" height="4" fill="#fff"/>
<rect x="429" y="530.5" width="4" height="1.3" fill="#fff"/>
<rect x="434" y="535" width="5.6" height="4" fill="#fff"/>
<rect x="429" y="536.5" width="4" height="1.3" fill="#fff"/>
<rect x="434" y="541" width="5.6" height="4" fill="#fff"/>
<rect x="429" y="542.5" width="4" height="1.3" fill="#fff"/>
<rect x="434" y="547" width="5.6" height="4" fill="#fff"/>
<rect x="429" y="548.5" width="4" height="1.3" fill="#fff"/>
<rect x="419.5" y="361.5" width="6" height="13.5" fill="#fff" stroke="#000"/>
<rect x="419.5" y="379.5" width="6" height="27.5" fill="#fff" stroke="#000"/>
<rect x="419.5" y="414.5" width="6" height="27.5" fill="#fff" stroke="#000"/>
<rect x="419.5" y="452.5" width="6" height="29.5" fill="#fff" stroke="#000"/>
<rect x="419.5" y="488.5" width="6" height="29.5" fill="#fff" stroke="#000"/>
<rect x="419.5" y="525.5" width="6" height="28" fill="#fff" stroke="#000"/>
<rect x="419.5" y="559.0" width="6" height="13.0" fill="#fff" stroke="#000"/>
<path d="M406.0 364.5 V368.0 H409.5 V371.5 H401.5 M407.5 371.5 V374.5 H416.5 V364.5" fill="none" stroke="#000" stroke-width="1"/>
<path d="M406.0 567.5 V564.0 H409.5 V560.5 H401.5 M407.5 560.5 V557.5 H416.5 V567.5" fill="none" stroke="#000" stroke-width="1"/>
<path d="M431.0 364.5 V368.0 H434.5 V371.5 H426.5 M432.5 371.5 V374.5 H441.5 V364.5 M426.5 364.5 V371.5" fill="none" stroke="#000" stroke-width="1"/>
<path d="M431.0 567.5 V564.0 H434.5 V560.5 H426.5 M432.5 560.5 V557.5 H441.5 V567.5 M426.5 567.5 V560.5" fill="none" stroke="#000" stroke-width="1"/>
<line x1="443.5" y1="353.5" x2="443.5" y2="578.5" stroke="#000" stroke-width="1"/>
<line x1="450.5" y1="353.5" x2="450.5" y2="361" stroke="#000" stroke-width="1"/>
<line x1="450.5" y1="571" x2="450.5" y2="578.5" stroke="#000" stroke-width="1"/>
<line x1="457.5" y1="353.5" x2="457.5" y2="361" stroke="#000" stroke-width="1"/>
<line x1="457.5" y1="571" x2="457.5" y2="578.5" stroke="#000" stroke-width="1"/>
<line x1="475.5" y1="353.5" x2="475.5" y2="361" stroke="#000" stroke-width="1"/>
<line x1="475.5" y1="571" x2="475.5" y2="578.5" stroke="#000" stroke-width="1"/>
<line x1="482.5" y1="353.5" x2="482.5" y2="361" stroke="#000" stroke-width="1"/>
<line x1="482.5" y1="571" x2="482.5" y2="578.5" stroke="#000" stroke-width="1"/>
<rect x="446" y="379" width="13" height="174" fill="#000"/>
<line x1="459.5" y1="379" x2="459.5" y2="553" stroke="#000" stroke-width="1" stroke-dasharray="1.5 1.4"/>
<rect x="452" y="382" width="5.5" height="4" fill="#fff"/>
<rect x="447" y="383.5" width="4" height="1.3" fill="#fff"/>
<rect x="452" y="388" width="5.5" height="4" fill="#fff"/>
<rect x="447" y="389.5" width="4" height="1.3" fill="#fff"/>
<rect x="452" y="394" width="5.5" height="4" fill="#fff"/>
<rect x="447" y="395.5" width="4" height="1.3" fill="#fff"/>
<rect x="452" y="400" width="5.5" height="4" fill="#fff"/>
<rect x="447" y="401.5" width="4" height="1.3" fill="#fff"/>
<rect x="452" y="406" width="5.5" height="4" fill="#fff"/>
<rect x="447" y="407.5" width="4" height="1.3" fill="#fff"/>
<rect x="452" y="411" width="5.5" height="4" fill="#fff"/>
<rect x="447" y="412.5" width="4" height="1.3" fill="#fff"/>
<rect x="452" y="417" width="5.5" height="4" fill="#fff"/>
<rect x="447" y="418.5" width="4" height="1.3" fill="#fff"/>
<rect x="452" y="423" width="5.5" height="4" fill="#fff"/>
<rect x="447" y="424.5" width="4" height="1.3" fill="#fff"/>
<rect x="452" y="429" width="5.5" height="4" fill="#fff"/>
<rect x="447" y="430.5" width="4" height="1.3" fill="#fff"/>
<rect x="452" y="435" width="5.5" height="4" fill="#fff"/>
<rect x="447" y="436.5" width="4" height="1.3" fill="#fff"/>
<rect x="452" y="441" width="5.5" height="4" fill="#fff"/>
<rect x="447" y="442.5" width="4" height="1.3" fill="#fff"/>
<rect x="452" y="447" width="5.5" height="4" fill="#fff"/>
<rect x="447" y="448.5" width="4" height="1.3" fill="#fff"/>
<rect x="452" y="453" width="5.5" height="4" fill="#fff"/>
<rect x="447" y="454.5" width="4" height="1.3" fill="#fff"/>
<rect x="452" y="458" width="5.5" height="4" fill="#fff"/>
<rect x="447" y="459.5" width="4" height="1.3" fill="#fff"/>
<rect x="452" y="464" width="5.5" height="4" fill="#fff"/>
<rect x="447" y="465.5" width="4" height="1.3" fill="#fff"/>
<rect x="452" y="470" width="5.5" height="4" fill="#fff"/>
<rect x="447" y="471.5" width="4" height="1.3" fill="#fff"/>
<rect x="452" y="476" width="5.5" height="4" fill="#fff"/>
<rect x="447" y="477.5" width="4" height="1.3" fill="#fff"/>
<rect x="452" y="482" width="5.5" height="4" fill="#fff"/>
<rect x="447" y="483.5" width="4" height="1.3" fill="#fff"/>
<rect x="452" y="488" width="5.5" height="4" fill="#fff"/>
<rect x="447" y="489.5" width="4" height="1.3" fill="#fff"/>
<rect x="452" y="494" width="5.5" height="4" fill="#fff"/>
<rect x="447" y="495.5" width="4" height="1.3" fill="#fff"/>
<rect x="452" y="500" width="5.5" height="4" fill="#fff"/>
<rect x="447" y="501.5" width="4" height="1.3" fill="#fff"/>
<rect x="452" y="505" width="5.5" height="4" fill="#fff"/>
<rect x="447" y="506.5" width="4" height="1.3" fill="#fff"/>
<rect x="452" y="511" width="5.5" height="4" fill="#fff"/>
<rect x="447" y="512.5" width="4" height="1.3" fill="#fff"/>
<rect x="452" y="517" width="5.5" height="4" fill="#fff"/>
<rect x="447" y="518.5" width="4" height="1.3" fill="#fff"/>
<rect x="452" y="523" width="5.5" height="4" fill="#fff"/>
<rect x="447" y="524.5" width="4" height="1.3" fill="#fff"/>
<rect x="452" y="529" width="5.5" height="4" fill="#fff"/>
<rect x="447" y="530.5" width="4" height="1.3" fill="#fff"/>
<rect x="452" y="535" width="5.5" height="4" fill="#fff"/>
<rect x="447" y="536.5" width="4" height="1.3" fill="#fff"/>
<rect x="452" y="541" width="5.5" height="4" fill="#fff"/>
<rect x="447" y="542.5" width="4" height="1.3" fill="#fff"/>
<rect x="452" y="547" width="5.5" height="4" fill="#fff"/>
<rect x="447" y="548.5" width="4" height="1.3" fill="#fff"/>
<rect x="470" y="379" width="13" height="174" fill="#000"/>
<line x1="483.5" y1="379" x2="483.5" y2="553" stroke="#000" stroke-width="1" stroke-dasharray="1.5 1.4"/>
<rect x="476" y="382" width="5.6" height="4" fill="#fff"/>
<rect x="471" y="383.5" width="4" height="1.3" fill="#fff"/>
<rect x="476" y="388" width="5.6" height="4" fill="#fff"/>
<rect x="471" y="389.5" width="4" height="1.3" fill="#fff"/>
<rect x="476" y="394" width="5.6" height="4" fill="#fff"/>
<rect x="471" y="395.5" width="4" height="1.3" fill="#fff"/>
<rect x="476" y="400" width="5.6" height="4" fill="#fff"/>
<rect x="471" y="401.5" width="4" height="1.3" fill="#fff"/>
<rect x="476" y="406" width="5.6" height="4" fill="#fff"/>
<rect x="471" y="407.5" width="4" height="1.3" fill="#fff"/>
<rect x="476" y="411" width="5.6" height="4" fill="#fff"/>
<rect x="471" y="412.5" width="4" height="1.3" fill="#fff"/>
<rect x="476" y="417" width="5.6" height="4" fill="#fff"/>
<rect x="471" y="418.5" width="4" height="1.3" fill="#fff"/>
<rect x="476" y="423" width="5.6" height="4" fill="#fff"/>
<rect x="471" y="424.5" width="4" height="1.3" fill="#fff"/>
<rect x="476" y="429" width="5.6" height="4" fill="#fff"/>
<rect x="471" y="430.5" width="4" height="1.3" fill="#fff"/>
<rect x="476" y="435" width="5.6" height="4" fill="#fff"/>
<rect x="471" y="436.5" width="4" height="1.3" fill="#fff"/>
<rect x="476" y="441" width="5.6" height="4" fill="#fff"/>
<rect x="471" y="442.5" width="4" height="1.3" fill="#fff"/>
<rect x="476" y="447" width="5.6" height="4" fill="#fff"/>
<rect x="471" y="448.5" width="4" height="1.3" fill="#fff"/>
<rect x="476" y="453" width="5.6" height="4" fill="#fff"/>
<rect x="471" y="454.5" width="4" height="1.3" fill="#fff"/>
<rect x="476" y="458" width="5.6" height="4" fill="#fff"/>
<rect x="471" y="459.5" width="4" height="1.3" fill="#fff"/>
<rect x="476" y="464" width="5.6" height="4" fill="#fff"/>
<rect x="471" y="465.5" width="4" height="1.3" fill="#fff"/>
<rect x="476" y="470" width="5.6" height="4" fill="#fff"/>
<rect x="471" y="471.5" width="4" height="1.3" fill="#fff"/>
<rect x="476" y="476" width="5.6" height="4" fill="#fff"/>
<rect x="471" y="477.5" width="4" height="1.3" fill="#fff"/>
<rect x="476" y="482" width="5.6" height="4" fill="#fff"/>
<rect x="471" y="483.5" width="4" height="1.3" fill="#fff"/>
<rect x="476" y="488" width="5.6" height="4" fill="#fff"/>
<rect x="471" y="489.5" width="4" height="1.3" fill="#fff"/>
<rect x="476" y="494" width="5.6" height="4" fill="#fff"/>
<rect x="471" y="495.5" width="4" height="1.3" fill="#fff"/>
<rect x="476" y="500" width="5.6" height="4" fill="#fff"/>
<rect x="471" y="501.5" width="4" height="1.3" fill="#fff"/>
<rect x="476" y="505" width="5.6" height="4" fill="#fff"/>
<rect x="471" y="506.5" width="4" height="1.3" fill="#fff"/>
<rect x="476" y="511" width="5.6" height="4" fill="#fff"/>
<rect x="471" y="512.5" width="4" height="1.3" fill="#fff"/>
<rect x="476" y="517" width="5.6" height="4" fill="#fff"/>
<rect x="471" y="518.5" width="4" height="1.3" fill="#fff"/>
<rect x="476" y="523" width="5.6" height="4" fill="#fff"/>
<rect x="471" y="524.5" width="4" height="1.3" fill="#fff"/>
<rect x="476" y="529" width="5.6" height="4" fill="#fff"/>
<rect x="471" y="530.5" width="4" height="1.3" fill="#fff"/>
<rect x="476" y="535" width="5.6" height="4" fill="#fff"/>
<rect x="471" y="536.5" width="4" height="1.3" fill="#fff"/>
<rect x="476" y="541" width="5.6" height="4" fill="#fff"/>
<rect x="471" y="542.5" width="4" height="1.3" fill="#fff"/>
<rect x="476" y="547" width="5.6" height="4" fill="#fff"/>
<rect x="471" y="548.5" width="4" height="1.3" fill="#fff"/>
<rect x="461.5" y="361.5" width="6" height="13.5" fill="#fff" stroke="#000"/>
<rect x="461.5" y="379.5" width="6" height="27.5" fill="#fff" stroke="#000"/>
<rect x="461.5" y="414.5" width="6" height="27.5" fill="#fff" stroke="#000"/>
<rect x="461.5" y="452.5" width="6" height="29.5" fill="#fff" stroke="#000"/>
<rect x="461.5" y="488.5" width="6" height="29.5" fill="#fff" stroke="#000"/>
<rect x="461.5" y="525.5" width="6" height="28" fill="#fff" stroke="#000"/>
<rect x="461.5" y="559.0" width="6" height="13.0" fill="#fff" stroke="#000"/>
<path d="M448.0 364.5 V368.0 H451.5 V371.5 H443.5 M449.5 371.5 V374.5 H458.5 V364.5" fill="none" stroke="#000" stroke-width="1"/>
<path d="M448.0 567.5 V564.0 H451.5 V560.5 H443.5 M449.5 560.5 V557.5 H458.5 V567.5" fill="none" stroke="#000" stroke-width="1"/>
<path d="M473.0 364.5 V368.0 H476.5 V371.5 H468.5 M474.5 371.5 V374.5 H483.5 V364.5 M468.5 364.5 V371.5" fill="none" stroke="#000" stroke-width="1"/>
<path d="M473.0 567.5 V564.0 H476.5 V560.5 H468.5 M474.5 560.5 V557.5 H483.5 V567.5 M468.5 567.5 V560.5" fill="none" stroke="#000" stroke-width="1"/>
<line x1="485.5" y1="353.5" x2="485.5" y2="578.5" stroke="#000" stroke-width="1"/>
<line x1="492.5" y1="353.5" x2="492.5" y2="361" stroke="#000" stroke-width="1"/>
<line x1="492.5" y1="571" x2="492.5" y2="578.5" stroke="#000" stroke-width="1"/>
<line x1="499.5" y1="353.5" x2="499.5" y2="361" stroke="#000" stroke-width="1"/>
<line x1="499.5" y1="571" x2="499.5" y2="578.5" stroke="#000" stroke-width="1"/>
<line x1="517.5" y1="353.5" x2="517.5" y2="361" stroke="#000" stroke-width="1"/>
<line x1="517.5" y1="571" x2="517.5" y2="578.5" stroke="#000" stroke-width="1"/>
<line x1="524.5" y1="353.5" x2="524.5" y2="361" stroke="#000" stroke-width="1"/>
<line x1="524.5" y1="571" x2="524.5" y2="578.5" stroke="#000" stroke-width="1"/>
<rect x="488" y="379" width="13" height="174" fill="#000"/>
<line x1="501.5" y1="379" x2="501.5" y2="553" stroke="#000" stroke-width="1" stroke-dasharray="1.5 1.4"/>
<rect x="494" y="382" width="5.5" height="4" fill="#fff"/>
<rect x="489" y="383.5" width="4" height="1.3" fill="#fff"/>
<rect x="494" y="388" width="5.5" height="4" fill="#fff"/>
<rect x="489" y="389.5" width="4" height="1.3" fill="#fff"/>
<rect x="494" y="394" width="5.5" height="4" fill="#fff"/>
<rect x="489" y="395.5" width="4" height="1.3" fill="#fff"/>
<rect x="494" y="400" width="5.5" height="4" fill="#fff"/>
<rect x="489" y="401.5" width="4" height="1.3" fill="#fff"/>
<rect x="494" y="406" width="5.5" height="4" fill="#fff"/>
<rect x="489" y="407.5" width="4" height="1.3" fill="#fff"/>
<rect x="494" y="411" width="5.5" height="4" fill="#fff"/>
<rect x="489" y="412.5" width="4" height="1.3" fill="#fff"/>
<rect x="494" y="417" width="5.5" height="4" fill="#fff"/>
<rect x="489" y="418.5" width="4" height="1.3" fill="#fff"/>
<rect x="494" y="423" width="5.5" height="4" fill="#fff"/>
<rect x="489" y="424.5" width="4" height="1.3" fill="#fff"/>
<rect x="494" y="429" width="5.5" height="4" fill="#fff"/>
<rect x="489" y="430.5" width="4" height="1.3" fill="#fff"/>
<rect x="494" y="435" width="5.5" height="4" fill="#fff"/>
<rect x="489" y="436.5" width="4" height="1.3" fill="#fff"/>
<rect x="494" y="441" width="5.5" height="4" fill="#fff"/>
<rect x="489" y="442.5" width="4" height="1.3" fill="#fff"/>
<rect x="494" y="447" width="5.5" height="4" fill="#fff"/>
<rect x="489" y="448.5" width="4" height="1.3" fill="#fff"/>
<rect x="494" y="453" width="5.5" height="4" fill="#fff"/>
<rect x="489" y="454.5" width="4" height="1.3" fill="#fff"/>
<rect x="494" y="458" width="5.5" height="4" fill="#fff"/>
<rect x="489" y="459.5" width="4" height="1.3" fill="#fff"/>
<rect x="494" y="464" width="5.5" height="4" fill="#fff"/>
<rect x="489" y="465.5" width="4" height="1.3" fill="#fff"/>
<rect x="494" y="470" width="5.5" height="4" fill="#fff"/>
<rect x="489" y="471.5" width="4" height="1.3" fill="#fff"/>
<rect x="494" y="476" width="5.5" height="4" fill="#fff"/>
<rect x="489" y="477.5" width="4" height="1.3" fill="#fff"/>
<rect x="494" y="482" width="5.5" height="4" fill="#fff"/>
<rect x="489" y="483.5" width="4" height="1.3" fill="#fff"/>
<rect x="494" y="488" width="5.5" height="4" fill="#fff"/>
<rect x="489" y="489.5" width="4" height="1.3" fill="#fff"/>
<rect x="494" y="494" width="5.5" height="4" fill="#fff"/>
<rect x="489" y="495.5" width="4" height="1.3" fill="#fff"/>
<rect x="494" y="500" width="5.5" height="4" fill="#fff"/>
<rect x="489" y="501.5" width="4" height="1.3" fill="#fff"/>
<rect x="494" y="505" width="5.5" height="4" fill="#fff"/>
<rect x="489" y="506.5" width="4" height="1.3" fill="#fff"/>
<rect x="494" y="511" width="5.5" height="4" fill="#fff"/>
<rect x="489" y="512.5" width="4" height="1.3" fill="#fff"/>
<rect x="494" y="517" width="5.5" height="4" fill="#fff"/>
<rect x="489" y="518.5" width="4" height="1.3" fill="#fff"/>
<rect x="494" y="523" width="5.5" height="4" fill="#fff"/>
<rect x="489" y="524.5" width="4" height="1.3" fill="#fff"/>
<rect x="494" y="529" width="5.5" height="4" fill="#fff"/>
<rect x="489" y="530.5" width="4" height="1.3" fill="#fff"/>
<rect x="494" y="535" width="5.5" height="4" fill="#fff"/>
<rect x="489" y="536.5" width="4" height="1.3" fill="#fff"/>
<rect x="494" y="541" width="5.5" height="4" fill="#fff"/>
<rect x="489" y="542.5" width="4" height="1.3" fill="#fff"/>
<rect x="494" y="547" width="5.5" height="4" fill="#fff"/>
<rect x="489" y="548.5" width="4" height="1.3" fill="#fff"/>
<rect x="512" y="379" width="13" height="174" fill="#000"/>
<line x1="525.5" y1="379" x2="525.5" y2="553" stroke="#000" stroke-width="1" stroke-dasharray="1.5 1.4"/>
<rect x="518" y="382" width="5.6" height="4" fill="#fff"/>
<rect x="513" y="383.5" width="4" height="1.3" fill="#fff"/>
<rect x="518" y="388" width="5.6" height="4" fill="#fff"/>
<rect x="513" y="389.5" width="4" height="1.3" fill="#fff"/>
<rect x="518" y="394" width="5.6" height="4" fill="#fff"/>
<rect x="513" y="395.5" width="4" height="1.3" fill="#fff"/>
<rect x="518" y="400" width="5.6" height="4" fill="#fff"/>
<rect x="513" y="401.5" width="4" height="1.3" fill="#fff"/>
<rect x="518" y="406" width="5.6" height="4" fill="#fff"/>
<rect x="513" y="407.5" width="4" height="1.3" fill="#fff"/>
<rect x="518" y="411" width="5.6" height="4" fill="#fff"/>
<rect x="513" y="412.5" width="4" height="1.3" fill="#fff"/>
<rect x="518" y="417" width="5.6" height="4" fill="#fff"/>
<rect x="513" y="418.5" width="4" height="1.3" fill="#fff"/>
<rect x="518" y="423" width="5.6" height="4" fill="#fff"/>
<rect x="513" y="424.5" width="4" height="1.3" fill="#fff"/>
<rect x="518" y="429" width="5.6" height="4" fill="#fff"/>
<rect x="513" y="430.5" width="4" height="1.3" fill="#fff"/>
<rect x="518" y="435" width="5.6" height="4" fill="#fff"/>
<rect x="513" y="436.5" width="4" height="1.3" fill="#fff"/>
<rect x="518" y="441" width="5.6" height="4" fill="#fff"/>
<rect x="513" y="442.5" width="4" height="1.3" fill="#fff"/>
<rect x="518" y="447" width="5.6" height="4" fill="#fff"/>
<rect x="513" y="448.5" width="4" height="1.3" fill="#fff"/>
<rect x="518" y="453" width="5.6" height="4" fill="#fff"/>
<rect x="513" y="454.5" width="4" height="1.3" fill="#fff"/>
<rect x="518" y="458" width="5.6" height="4" fill="#fff"/>
<rect x="513" y="459.5" width="4" height="1.3" fill="#fff"/>
<rect x="518" y="464" width="5.6" height="4" fill="#fff"/>
<rect x="513" y="465.5" width="4" height="1.3" fill="#fff"/>
<rect x="518" y="470" width="5.6" height="4" fill="#fff"/>
<rect x="513" y="471.5" width="4" height="1.3" fill="#fff"/>
<rect x="518" y="476" width="5.6" height="4" fill="#fff"/>
<rect x="513" y="477.5" width="4" height="1.3" fill="#fff"/>
<rect x="518" y="482" width="5.6" height="4" fill="#fff"/>
<rect x="513" y="483.5" width="4" height="1.3" fill="#fff"/>
<rect x="518" y="488" width="5.6" height="4" fill="#fff"/>
<rect x="513" y="489.5" width="4" height="1.3" fill="#fff"/>
<rect x="518" y="494" width="5.6" height="4" fill="#fff"/>
<rect x="513" y="495.5" width="4" height="1.3" fill="#fff"/>
<rect x="518" y="500" width="5.6" height="4" fill="#fff"/>
<rect x="513" y="501.5" width="4" height="1.3" fill="#fff"/>
<rect x="518" y="505" width="5.6" height="4" fill="#fff"/>
<rect x="513" y="506.5" width="4" height="1.3" fill="#fff"/>
<rect x="518" y="511" width="5.6" height="4" fill="#fff"/>
<rect x="513" y="512.5" width="4" height="1.3" fill="#fff"/>
<rect x="518" y="517" width="5.6" height="4" fill="#fff"/>
<rect x="513" y="518.5" width="4" height="1.3" fill="#fff"/>
<rect x="518" y="523" width="5.6" height="4" fill="#fff"/>
<rect x="513" y="524.5" width="4" height="1.3" fill="#fff"/>
<rect x="518" y="529" width="5.6" height="4" fill="#fff"/>
<rect x="513" y="530.5" width="4" height="1.3" fill="#fff"/>
<rect x="518" y="535" width="5.6" height="4" fill="#fff"/>
<rect x="513" y="536.5" width="4" height="1.3" fill="#fff"/>
<rect x="518" y="541" width="5.6" height="4" fill="#fff"/>
<rect x="513" y="542.5" width="4" height="1.3" fill="#fff"/>
<rect x="518" y="547" width="5.6" height="4" fill="#fff"/>
<rect x="513" y="548.5" width="4" height="1.3" fill="#fff"/>
<rect x="503.5" y="361.5" width="6" height="13.5" fill="#fff" stroke="#000"/>
<rect x="503.5" y="379.5" width="6" height="27.5" fill="#fff" stroke="#000"/>
<rect x="503.5" y="414.5" width="6" height="27.5" fill="#fff" stroke="#000"/>
<rect x="503.5" y="452.5" width="6" height="29.5" fill="#fff" stroke="#000"/>
<rect x="503.5" y="488.5" width="6" height="29.5" fill="#fff" stroke="#000"/>
<rect x="503.5" y="525.5" width="6" height="28" fill="#fff" stroke="#000"/>
<rect x="503.5" y="559.0" width="6" height="13.0" fill="#fff" stroke="#000"/>
<path d="M490.0 364.5 V368.0 H493.5 V371.5 H485.5 M491.5 371.5 V374.5 H500.5 V364.5" fill="none" stroke="#000" stroke-width="1"/>
<path d="M490.0 567.5 V564.0 H493.5 V560.5 H485.5 M491.5 560.5 V557.5 H500.5 V567.5" fill="none" stroke="#000" stroke-width="1"/>
<path d="M515.0 364.5 V368.0 H518.5 V371.5 H510.5 M516.5 371.5 V374.5 H525.5 V364.5 M510.5 364.5 V371.5" fill="none" stroke="#000" stroke-width="1"/>
<path d="M515.0 567.5 V564.0 H518.5 V560.5 H510.5 M516.5 560.5 V557.5 H525.5 V567.5 M510.5 567.5 V560.5" fill="none" stroke="#000" stroke-width="1"/>
<line x1="527.5" y1="353.5" x2="527.5" y2="578.5" stroke="#000" stroke-width="1"/>
<line x1="534.5" y1="353.5" x2="534.5" y2="361" stroke="#000" stroke-width="1"/>
<line x1="534.5" y1="571" x2="534.5" y2="578.5" stroke="#000" stroke-width="1"/>
<line x1="541.5" y1="353.5" x2="541.5" y2="361" stroke="#000" stroke-width="1"/>
<line x1="541.5" y1="571" x2="541.5" y2="578.5" stroke="#000" stroke-width="1"/>
<line x1="559.5" y1="353.5" x2="559.5" y2="361" stroke="#000" stroke-width="1"/>
<line x1="559.5" y1="571" x2="559.5" y2="578.5" stroke="#000" stroke-width="1"/>
<line x1="566.5" y1="353.5" x2="566.5" y2="361" stroke="#000" stroke-width="1"/>
<line x1="566.5" y1="571" x2="566.5" y2="578.5" stroke="#000" stroke-width="1"/>
<rect x="530" y="379" width="13" height="174" fill="#000"/>
<line x1="543.5" y1="379" x2="543.5" y2="553" stroke="#000" stroke-width="1" stroke-dasharray="1.5 1.4"/>
<rect x="536" y="382" width="5.5" height="4" fill="#fff"/>
<rect x="531" y="383.5" width="4" height="1.3" fill="#fff"/>
<rect x="536" y="388" width="5.5" height="4" fill="#fff"/>
<rect x="531" y="389.5" width="4" height="1.3" fill="#fff"/>
<rect x="536" y="394" width="5.5" height="4" fill="#fff"/>
<rect x="531" y="395.5" width="4" height="1.3" fill="#fff"/>
<rect x="536" y="400" width="5.5" height="4" fill="#fff"/>
<rect x="531" y="401.5" width="4" height="1.3" fill="#fff"/>
<rect x="536" y="406" width="5.5" height="4" fill="#fff"/>
<rect x="531" y="407.5" width="4" height="1.3" fill="#fff"/>
<rect x="536" y="411" width="5.5" height="4" fill="#fff"/>
<rect x="531" y="412.5" width="4" height="1.3" fill="#fff"/>
<rect x="536" y="417" width="5.5" height="4" fill="#fff"/>
<rect x="531" y="418.5" width="4" height="1.3" fill="#fff"/>
<rect x="536" y="423" width="5.5" height="4" fill="#fff"/>
<rect x="531" y="424.5" width="4" height="1.3" fill="#fff"/>
<rect x="536" y="429" width="5.5" height="4" fill="#fff"/>
<rect x="531" y="430.5" width="4" height="1.3" fill="#fff"/>
<rect x="536" y="435" width="5.5" height="4" fill="#fff"/>
<rect x="531" y="436.5" width="4" height="1.3" fill="#fff"/>
<rect x="536" y="441" width="5.5" height="4" fill="#fff"/>
<rect x="531" y="442.5" width="4" height="1.3" fill="#fff"/>
<rect x="536" y="447" width="5.5" height="4" fill="#fff"/>
<rect x="531" y="448.5" width="4" height="1.3" fill="#fff"/>
<rect x="536" y="453" width="5.5" height="4" fill="#fff"/>
<rect x="531" y="454.5" width="4" height="1.3" fill="#fff"/>
<rect x="536" y="458" width="5.5" height="4" fill="#fff"/>
<rect x="531" y="459.5" width="4" height="1.3" fill="#fff"/>
<rect x="536" y="464" width="5.5" height="4" fill="#fff"/>
<rect x="531" y="465.5" width="4" height="1.3" fill="#fff"/>
<rect x="536" y="470" width="5.5" height="4" fill="#fff"/>
<rect x="531" y="471.5" width="4" height="1.3" fill="#fff"/>
<rect x="536" y="476" width="5.5" height="4" fill="#fff"/>
<rect x="531" y="477.5" width="4" height="1.3" fill="#fff"/>
<rect x="536" y="482" width="5.5" height="4" fill="#fff"/>
<rect x="531" y="483.5" width="4" height="1.3" fill="#fff"/>
<rect x="536" y="488" width="5.5" height="4" fill="#fff"/>
<rect x="531" y="489.5" width="4" height="1.3" fill="#fff"/>
<rect x="536" y="494" width="5.5" height="4" fill="#fff"/>
<rect x="531" y="495.5" width="4" height="1.3" fill="#fff"/>
<rect x="536" y="500" width="5.5" height="4" fill="#fff"/>
<rect x="531" y="501.5" width="4" height="1.3" fill="#fff"/>
<rect x="536" y="505" width="5.5" height="4" fill="#fff"/>
<rect x="531" y="506.5" width="4" height="1.3" fill="#fff"/>
<rect x="536" y="511" width="5.5" height="4" fill="#fff"/>
<rect x="531" y="512.5" width="4" height="1.3" fill="#fff"/>
<rect x="536" y="517" width="5.5" height="4" fill="#fff"/>
<rect x="531" y="518.5" width="4" height="1.3" fill="#fff"/>
<rect x="536" y="523" width="5.5" height="4" fill="#fff"/>
<rect x="531" y="524.5" width="4" height="1.3" fill="#fff"/>
<rect x="536" y="529" width="5.5" height="4" fill="#fff"/>
<rect x="531" y="530.5" width="4" height="1.3" fill="#fff"/>
<rect x="536" y="535" width="5.5" height="4" fill="#fff"/>
<rect x="531" y="536.5" width="4" height="1.3" fill="#fff"/>
<rect x="536" y="541" width="5.5" height="4" fill="#fff"/>
<rect x="531" y="542.5" width="4" height="1.3" fill="#fff"/>
<rect x="536" y="547" width="5.5" height="4" fill="#fff"/>
<rect x="531" y="548.5" width="4" height="1.3" fill="#fff"/>
<rect x="554" y="379" width="13" height="174" fill="#000"/>
<line x1="567.5" y1="379" x2="567.5" y2="553" stroke="#000" stroke-width="1" stroke-dasharray="1.5 1.4"/>
<rect x="560" y="382" width="5.6" height="4" fill="#fff"/>
<rect x="555" y="383.5" width="4" height="1.3" fill="#fff"/>
<rect x="560" y="388" width="5.6" height="4" fill="#fff"/>
<rect x="555" y="389.5" width="4" height="1.3" fill="#fff"/>
<rect x="560" y="394" width="5.6" height="4" fill="#fff"/>
<rect x="555" y="395.5" width="4" height="1.3" fill="#fff"/>
<rect x="560" y="400" width="5.6" height="4" fill="#fff"/>
<rect x="555" y="401.5" width="4" height="1.3" fill="#fff"/>
<rect x="560" y="406" width="5.6" height="4" fill="#fff"/>
<rect x="555" y="407.5" width="4" height="1.3" fill="#fff"/>
<rect x="560" y="411" width="5.6" height="4" fill="#fff"/>
<rect x="555" y="412.5" width="4" height="1.3" fill="#fff"/>
<rect x="560" y="417" width="5.6" height="4" fill="#fff"/>
<rect x="555" y="418.5" width="4" height="1.3" fill="#fff"/>
<rect x="560" y="423" width="5.6" height="4" fill="#fff"/>
<rect x="555" y="424.5" width="4" height="1.3" fill="#fff"/>
<rect x="560" y="429" width="5.6" height="4" fill="#fff"/>
<rect x="555" y="430.5" width="4" height="1.3" fill="#fff"/>
<rect x="560" y="435" width="5.6" height="4" fill="#fff"/>
<rect x="555" y="436.5" width="4" height="1.3" fill="#fff"/>
<rect x="560" y="441" width="5.6" height="4" fill="#fff"/>
<rect x="555" y="442.5" width="4" height="1.3" fill="#fff"/>
<rect x="560" y="447" width="5.6" height="4" fill="#fff"/>
<rect x="555" y="448.5" width="4" height="1.3" fill="#fff"/>
<rect x="560" y="453" width="5.6" height="4" fill="#fff"/>
<rect x="555" y="454.5" width="4" height="1.3" fill="#fff"/>
<rect x="560" y="458" width="5.6" height="4" fill="#fff"/>
<rect x="555" y="459.5" width="4" height="1.3" fill="#fff"/>
<rect x="560" y="464" width="5.6" height="4" fill="#fff"/>
<rect x="555" y="465.5" width="4" height="1.3" fill="#fff"/>
<rect x="560" y="470" width="5.6" height="4" fill="#fff"/>
<rect x="555" y="471.5" width="4" height="1.3" fill="#fff"/>
<rect x="560" y="476" width="5.6" height="4" fill="#fff"/>
<rect x="555" y="477.5" width="4" height="1.3" fill="#fff"/>
<rect x="560" y="482" width="5.6" height="4" fill="#fff"/>
<rect x="555" y="483.5" width="4" height="1.3" fill="#fff"/>
<rect x="560" y="488" width="5.6" height="4" fill="#fff"/>
<rect x="555" y="489.5" width="4" height="1.3" fill="#fff"/>
<rect x="560" y="494" width="5.6" height="4" fill="#fff"/>
<rect x="555" y="495.5" width="4" height="1.3" fill="#fff"/>
<rect x="560" y="500" width="5.6" height="4" fill="#fff"/>
<rect x="555" y="501.5" width="4" height="1.3" fill="#fff"/>
<rect x="560" y="505" width="5.6" height="4" fill="#fff"/>
<rect x="555" y="506.5" width="4" height="1.3" fill="#fff"/>
<rect x="560" y="511" width="5.6" height="4" fill="#fff"/>
<rect x="555" y="512.5" width="4" height="1.3" fill="#fff"/>
<rect x="560" y="517" width="5.6" height="4" fill="#fff"/>
<rect x="555" y="518.5" width="4" height="1.3" fill="#fff"/>
<rect x="560" y="523" width="5.6" height="4" fill="#fff"/>
<rect x="555" y="524.5" width="4" height="1.3" fill="#fff"/>
<rect x="560" y="529" width="5.6" height="4" fill="#fff"/>
<rect x="555" y="530.5" width="4" height="1.3" fill="#fff"/>
<rect x="560" y="535" width="5.6" height="4" fill="#fff"/>
<rect x="555" y="536.5" width="4" height="1.3" fill="#fff"/>
<rect x="560" y="541" width="5.6" height="4" fill="#fff"/>
<rect x="555" y="542.5" width="4" height="1.3" fill="#fff"/>
<rect x="560" y="547" width="5.6" height="4" fill="#fff"/>
<rect x="555" y="548.5" width="4" height="1.3" fill="#fff"/>
<rect x="545.5" y="361.5" width="6" height="13.5" fill="#fff" stroke="#000"/>
<rect x="545.5" y="379.5" width="6" height="27.5" fill="#fff" stroke="#000"/>
<rect x="545.5" y="414.5" width="6" height="27.5" fill="#fff" stroke="#000"/>
<rect x="545.5" y="452.5" width="6" height="29.5" fill="#fff" stroke="#000"/>
<rect x="545.5" y="488.5" width="6" height="29.5" fill="#fff" stroke="#000"/>
<rect x="545.5" y="525.5" width="6" height="28" fill="#fff" stroke="#000"/>
<rect x="545.5" y="559.0" width="6" height="13.0" fill="#fff" stroke="#000"/>
<path d="M532.0 364.5 V368.0 H535.5 V371.5 H527.5 M533.5 371.5 V374.5 H542.5 V364.5" fill="none" stroke="#000" stroke-width="1"/>
<path d="M532.0 567.5 V564.0 H535.5 V560.5 H527.5 M533.5 560.5 V557.5 H542.5 V567.5" fill="none" stroke="#000" stroke-width="1"/>
<path d="M557.0 364.5 V368.0 H560.5 V371.5 H552.5 M558.5 371.5 V374.5 H567.5 V364.5 M552.5 364.5 V371.5" fill="none" stroke="#000" stroke-width="1"/>
<path d="M557.0 567.5 V564.0 H560.5 V560.5 H552.5 M558.5 560.5 V557.5 H567.5 V567.5 M552.5 567.5 V560.5" fill="none" stroke="#000" stroke-width="1"/>
<line x1="568.5" y1="353.5" x2="568.5" y2="578.5" stroke="#000" stroke-width="1"/>
<line x1="575.5" y1="353.5" x2="575.5" y2="361" stroke="#000" stroke-width="1"/>
<line x1="575.5" y1="571" x2="575.5" y2="578.5" stroke="#000" stroke-width="1"/>
<line x1="582.5" y1="353.5" x2="582.5" y2="361" stroke="#000" stroke-width="1"/>
<line x1="582.5" y1="571" x2="582.5" y2="578.5" stroke="#000" stroke-width="1"/>
<line x1="600.5" y1="353.5" x2="600.5" y2="361" stroke="#000" stroke-width="1"/>
<line x1="600.5" y1="571" x2="600.5" y2="578.5" stroke="#000" stroke-width="1"/>
<line x1="607.5" y1="353.5" x2="607.5" y2="361" stroke="#000" stroke-width="1"/>
<line x1="607.5" y1="571" x2="607.5" y2="578.5" stroke="#000" stroke-width="1"/>
<rect x="571" y="379" width="13" height="174" fill="#000"/>
<line x1="584.5" y1="379" x2="584.5" y2="553" stroke="#000" stroke-width="1" stroke-dasharray="1.5 1.4"/>
<rect x="578" y="382" width="5.5" height="4" fill="#fff"/>
<rect x="572" y="383.5" width="4" height="1.3" fill="#fff"/>
<rect x="578" y="388" width="5.5" height="4" fill="#fff"/>
<rect x="572" y="389.5" width="4" height="1.3" fill="#fff"/>
<rect x="578" y="394" width="5.5" height="4" fill="#fff"/>
<rect x="572" y="395.5" width="4" height="1.3" fill="#fff"/>
<rect x="578" y="400" width="5.5" height="4" fill="#fff"/>
<rect x="572" y="401.5" width="4" height="1.3" fill="#fff"/>
<rect x="578" y="406" width="5.5" height="4" fill="#fff"/>
<rect x="572" y="407.5" width="4" height="1.3" fill="#fff"/>
<rect x="578" y="411" width="5.5" height="4" fill="#fff"/>
<rect x="572" y="412.5" width="4" height="1.3" fill="#fff"/>
<rect x="578" y="417" width="5.5" height="4" fill="#fff"/>
<rect x="572" y="418.5" width="4" height="1.3" fill="#fff"/>
<rect x="578" y="423" width="5.5" height="4" fill="#fff"/>
<rect x="572" y="424.5" width="4" height="1.3" fill="#fff"/>
<rect x="578" y="429" width="5.5" height="4" fill="#fff"/>
<rect x="572" y="430.5" width="4" height="1.3" fill="#fff"/>
<rect x="578" y="435" width="5.5" height="4" fill="#fff"/>
<rect x="572" y="436.5" width="4" height="1.3" fill="#fff"/>
<rect x="578" y="441" width="5.5" height="4" fill="#fff"/>
<rect x="572" y="442.5" width="4" height="1.3" fill="#fff"/>
<rect x="578" y="447" width="5.5" height="4" fill="#fff"/>
<rect x="572" y="448.5" width="4" height="1.3" fill="#fff"/>
<rect x="578" y="453" width="5.5" height="4" fill="#fff"/>
<rect x="572" y="454.5" width="4" height="1.3" fill="#fff"/>
<rect x="578" y="458" width="5.5" height="4" fill="#fff"/>
<rect x="572" y="459.5" width="4" height="1.3" fill="#fff"/>
<rect x="578" y="464" width="5.5" height="4" fill="#fff"/>
<rect x="572" y="465.5" width="4" height="1.3" fill="#fff"/>
<rect x="578" y="470" width="5.5" height="4" fill="#fff"/>
<rect x="572" y="471.5" width="4" height="1.3" fill="#fff"/>
<rect x="578" y="476" width="5.5" height="4" fill="#fff"/>
<rect x="572" y="477.5" width="4" height="1.3" fill="#fff"/>
<rect x="578" y="482" width="5.5" height="4" fill="#fff"/>
<rect x="572" y="483.5" width="4" height="1.3" fill="#fff"/>
<rect x="578" y="488" width="5.5" height="4" fill="#fff"/>
<rect x="572" y="489.5" width="4" height="1.3" fill="#fff"/>
<rect x="578" y="494" width="5.5" height="4" fill="#fff"/>
<rect x="572" y="495.5" width="4" height="1.3" fill="#fff"/>
<rect x="578" y="500" width="5.5" height="4" fill="#fff"/>
<rect x="572" y="501.5" width="4" height="1.3" fill="#fff"/>
<rect x="578" y="505" width="5.5" height="4" fill="#fff"/>
<rect x="572" y="506.5" width="4" height="1.3" fill="#fff"/>
<rect x="578" y="511" width="5.5" height="4" fill="#fff"/>
<rect x="572" y="512.5" width="4" height="1.3" fill="#fff"/>
<rect x="578" y="517" width="5.5" height="4" fill="#fff"/>
<rect x="572" y="518.5" width="4" height="1.3" fill="#fff"/>
<rect x="578" y="523" width="5.5" height="4" fill="#fff"/>
<rect x="572" y="524.5" width="4" height="1.3" fill="#fff"/>
<rect x="578" y="529" width="5.5" height="4" fill="#fff"/>
<rect x="572" y="530.5" width="4" height="1.3" fill="#fff"/>
<rect x="578" y="535" width="5.5" height="4" fill="#fff"/>
<rect x="572" y="536.5" width="4" height="1.3" fill="#fff"/>
<rect x="578" y="541" width="5.5" height="4" fill="#fff"/>
<rect x="572" y="542.5" width="4" height="1.3" fill="#fff"/>
<rect x="578" y="547" width="5.5" height="4" fill="#fff"/>
<rect x="572" y="548.5" width="4" height="1.3" fill="#fff"/>
<rect x="595" y="379" width="13" height="174" fill="#000"/>
<line x1="608.5" y1="379" x2="608.5" y2="553" stroke="#000" stroke-width="1" stroke-dasharray="1.5 1.4"/>
<rect x="601" y="382" width="5.6" height="4" fill="#fff"/>
<rect x="596" y="383.5" width="4" height="1.3" fill="#fff"/>
<rect x="601" y="388" width="5.6" height="4" fill="#fff"/>
<rect x="596" y="389.5" width="4" height="1.3" fill="#fff"/>
<rect x="601" y="394" width="5.6" height="4" fill="#fff"/>
<rect x="596" y="395.5" width="4" height="1.3" fill="#fff"/>
<rect x="601" y="400" width="5.6" height="4" fill="#fff"/>
<rect x="596" y="401.5" width="4" height="1.3" fill="#fff"/>
<rect x="601" y="406" width="5.6" height="4" fill="#fff"/>
<rect x="596" y="407.5" width="4" height="1.3" fill="#fff"/>
<rect x="601" y="411" width="5.6" height="4" fill="#fff"/>
<rect x="596" y="412.5" width="4" height="1.3" fill="#fff"/>
<rect x="601" y="417" width="5.6" height="4" fill="#fff"/>
<rect x="596" y="418.5" width="4" height="1.3" fill="#fff"/>
<rect x="601" y="423" width="5.6" height="4" fill="#fff"/>
<rect x="596" y="424.5" width="4" height="1.3" fill="#fff"/>
<rect x="601" y="429" width="5.6" height="4" fill="#fff"/>
<rect x="596" y="430.5" width="4" height="1.3" fill="#fff"/>
<rect x="601" y="435" width="5.6" height="4" fill="#fff"/>
<rect x="596" y="436.5" width="4" height="1.3" fill="#fff"/>
<rect x="601" y="441" width="5.6" height="4" fill="#fff"/>
<rect x="596" y="442.5" width="4" height="1.3" fill="#fff"/>
<rect x="601" y="447" width="5.6" height="4" fill="#fff"/>
<rect x="596" y="448.5" width="4" height="1.3" fill="#fff"/>
<rect x="601" y="453" width="5.6" height="4" fill="#fff"/>
<rect x="596" y="454.5" width="4" height="1.3" fill="#fff"/>
<rect x="601" y="458" width="5.6" height="4" fill="#fff"/>
<rect x="596" y="459.5" width="4" height="1.3" fill="#fff"/>
<rect x="601" y="464" width="5.6" height="4" fill="#fff"/>
<rect x="596" y="465.5" width="4" height="1.3" fill="#fff"/>
<rect x="601" y="470" width="5.6" height="4" fill="#fff"/>
<rect x="596" y="471.5" width="4" height="1.3" fill="#fff"/>
<rect x="601" y="476" width="5.6" height="4" fill="#fff"/>
<rect x="596" y="477.5" width="4" height="1.3" fill="#fff"/>
<rect x="601" y="482" width="5.6" height="4" fill="#fff"/>
<rect x="596" y="483.5" width="4" height="1.3" fill="#fff"/>
<rect x="601" y="488" width="5.6" height="4" fill="#fff"/>
<rect x="596" y="489.5" width="4" height="1.3" fill="#fff"/>
<rect x="601" y="494" width="5.6" height="4" fill="#fff"/>
<rect x="596" y="495.5" width="4" height="1.3" fill="#fff"/>
<rect x="601" y="500" width="5.6" height="4" fill="#fff"/>
<rect x="596" y="501.5" width="4" height="1.3" fill="#fff"/>
<rect x="601" y="505" width="5.6" height="4" fill="#fff"/>
<rect x="596" y="506.5" width="4" height="1.3" fill="#fff"/>
<rect x="601" y="511" width="5.6" height="4" fill="#fff"/>
<rect x="596" y="512.5" width="4" height="1.3" fill="#fff"/>
<rect x="601" y="517" width="5.6" height="4" fill="#fff"/>
<rect x="596" y="518.5" width="4" height="1.3" fill="#fff"/>
<rect x="601" y="523" width="5.6" height="4" fill="#fff"/>
<rect x="596" y="524.5" width="4" height="1.3" fill="#fff"/>
<rect x="601" y="529" width="5.6" height="4" fill="#fff"/>
<rect x="596" y="530.5" width="4" height="1.3" fill="#fff"/>
<rect x="601" y="535" width="5.6" height="4" fill="#fff"/>
<rect x="596" y="536.5" width="4" height="1.3" fill="#fff"/>
<rect x="601" y="541" width="5.6" height="4" fill="#fff"/>
<rect x="596" y="542.5" width="4" height="1.3" fill="#fff"/>
<rect x="601" y="547" width="5.6" height="4" fill="#fff"/>
<rect x="596" y="548.5" width="4" height="1.3" fill="#fff"/>
<rect x="586.5" y="361.5" width="6" height="13.5" fill="#fff" stroke="#000"/>
<rect x="586.5" y="379.5" width="6" height="27.5" fill="#fff" stroke="#000"/>
<rect x="586.5" y="414.5" width="6" height="27.5" fill="#fff" stroke="#000"/>
<rect x="586.5" y="452.5" width="6" height="29.5" fill="#fff" stroke="#000"/>
<rect x="586.5" y="488.5" width="6" height="29.5" fill="#fff" stroke="#000"/>
<rect x="586.5" y="525.5" width="6" height="28" fill="#fff" stroke="#000"/>
<rect x="586.5" y="559.0" width="6" height="13.0" fill="#fff" stroke="#000"/>
<path d="M573.0 364.5 V368.0 H576.5 V371.5 H568.5 M574.5 371.5 V374.5 H583.5 V364.5" fill="none" stroke="#000" stroke-width="1"/>
<path d="M573.0 567.5 V564.0 H576.5 V560.5 H568.5 M574.5 560.5 V557.5 H583.5 V567.5" fill="none" stroke="#000" stroke-width="1"/>
<path d="M599.0 364.5 V368.0 H602.5 V371.5 H594.5 M600.5 371.5 V374.5 H609.5 V364.5 M594.5 364.5 V371.5" fill="none" stroke="#000" stroke-width="1"/>
<path d="M599.0 567.5 V564.0 H602.5 V560.5 H594.5 M600.5 560.5 V557.5 H609.5 V567.5 M594.5 567.5 V560.5" fill="none" stroke="#000" stroke-width="1"/>
<line x1="610.5" y1="353.5" x2="610.5" y2="578.5" stroke="#000" stroke-width="1"/>
<line x1="617.5" y1="353.5" x2="617.5" y2="361" stroke="#000" stroke-width="1"/>
<line x1="617.5" y1="571" x2="617.5" y2="578.5" stroke="#000" stroke-width="1"/>
<line x1="624.5" y1="353.5" x2="624.5" y2="361" stroke="#000" stroke-width="1"/>
<line x1="624.5" y1="571" x2="624.5" y2="578.5" stroke="#000" stroke-width="1"/>
<line x1="642.5" y1="353.5" x2="642.5" y2="361" stroke="#000" stroke-width="1"/>
<line x1="642.5" y1="571" x2="642.5" y2="578.5" stroke="#000" stroke-width="1"/>
<line x1="649.5" y1="353.5" x2="649.5" y2="361" stroke="#000" stroke-width="1"/>
<line x1="649.5" y1="571" x2="649.5" y2="578.5" stroke="#000" stroke-width="1"/>
<rect x="613" y="379" width="13" height="174" fill="#000"/>
<line x1="626.5" y1="379" x2="626.5" y2="553" stroke="#000" stroke-width="1" stroke-dasharray="1.5 1.4"/>
<rect x="620" y="382" width="5.5" height="4" fill="#fff"/>
<rect x="614" y="383.5" width="4" height="1.3" fill="#fff"/>
<rect x="620" y="388" width="5.5" height="4" fill="#fff"/>
<rect x="614" y="389.5" width="4" height="1.3" fill="#fff"/>
<rect x="620" y="394" width="5.5" height="4" fill="#fff"/>
<rect x="614" y="395.5" width="4" height="1.3" fill="#fff"/>
<rect x="620" y="400" width="5.5" height="4" fill="#fff"/>
<rect x="614" y="401.5" width="4" height="1.3" fill="#fff"/>
<rect x="620" y="406" width="5.5" height="4" fill="#fff"/>
<rect x="614" y="407.5" width="4" height="1.3" fill="#fff"/>
<rect x="620" y="411" width="5.5" height="4" fill="#fff"/>
<rect x="614" y="412.5" width="4" height="1.3" fill="#fff"/>
<rect x="620" y="417" width="5.5" height="4" fill="#fff"/>
<rect x="614" y="418.5" width="4" height="1.3" fill="#fff"/>
<rect x="620" y="423" width="5.5" height="4" fill="#fff"/>
<rect x="614" y="424.5" width="4" height="1.3" fill="#fff"/>
<rect x="620" y="429" width="5.5" height="4" fill="#fff"/>
<rect x="614" y="430.5" width="4" height="1.3" fill="#fff"/>
<rect x="620" y="435" width="5.5" height="4" fill="#fff"/>
<rect x="614" y="436.5" width="4" height="1.3" fill="#fff"/>
<rect x="620" y="441" width="5.5" height="4" fill="#fff"/>
<rect x="614" y="442.5" width="4" height="1.3" fill="#fff"/>
<rect x="620" y="447" width="5.5" height="4" fill="#fff"/>
<rect x="614" y="448.5" width="4" height="1.3" fill="#fff"/>
<rect x="620" y="453" width="5.5" height="4" fill="#fff"/>
<rect x="614" y="454.5" width="4" height="1.3" fill="#fff"/>
<rect x="620" y="458" width="5.5" height="4" fill="#fff"/>
<rect x="614" y="459.5" width="4" height="1.3" fill="#fff"/>
<rect x="620" y="464" width="5.5" height="4" fill="#fff"/>
<rect x="614" y="465.5" width="4" height="1.3" fill="#fff"/>
<rect x="620" y="470" width="5.5" height="4" fill="#fff"/>
<rect x="614" y="471.5" width="4" height="1.3" fill="#fff"/>
<rect x="620" y="476" width="5.5" height="4" fill="#fff"/>
<rect x="614" y="477.5" width="4" height="1.3" fill="#fff"/>
<rect x="620" y="482" width="5.5" height="4" fill="#fff"/>
<rect x="614" y="483.5" width="4" height="1.3" fill="#fff"/>
<rect x="620" y="488" width="5.5" height="4" fill="#fff"/>
<rect x="614" y="489.5" width="4" height="1.3" fill="#fff"/>
<rect x="620" y="494" width="5.5" height="4" fill="#fff"/>
<rect x="614" y="495.5" width="4" height="1.3" fill="#fff"/>
<rect x="620" y="500" width="5.5" height="4" fill="#fff"/>
<rect x="614" y="501.5" width="4" height="1.3" fill="#fff"/>
<rect x="620" y="505" width="5.5" height="4" fill="#fff"/>
<rect x="614" y="506.5" width="4" height="1.3" fill="#fff"/>
<rect x="620" y="511" width="5.5" height="4" fill="#fff"/>
<rect x="614" y="512.5" width="4" height="1.3" fill="#fff"/>
<rect x="620" y="517" width="5.5" height="4" fill="#fff"/>
<rect x="614" y="518.5" width="4" height="1.3" fill="#fff"/>
<rect x="620" y="523" width="5.5" height="4" fill="#fff"/>
<rect x="614" y="524.5" width="4" height="1.3" fill="#fff"/>
<rect x="620" y="529" width="5.5" height="4" fill="#fff"/>
<rect x="614" y="530.5" width="4" height="1.3" fill="#fff"/>
<rect x="620" y="535" width="5.5" height="4" fill="#fff"/>
<rect x="614" y="536.5" width="4" height="1.3" fill="#fff"/>
<rect x="620" y="541" width="5.5" height="4" fill="#fff"/>
<rect x="614" y="542.5" width="4" height="1.3" fill="#fff"/>
<rect x="620" y="547" width="5.5" height="4" fill="#fff"/>
<rect x="614" y="548.5" width="4" height="1.3" fill="#fff"/>
<rect x="637" y="379" width="13" height="174" fill="#000"/>
<line x1="650.5" y1="379" x2="650.5" y2="553" stroke="#000" stroke-width="1" stroke-dasharray="1.5 1.4"/>
<rect x="643" y="382" width="5.6" height="4" fill="#fff"/>
<rect x="638" y="383.5" width="4" height="1.3" fill="#fff"/>
<rect x="643" y="388" width="5.6" height="4" fill="#fff"/>
<rect x="638" y="389.5" width="4" height="1.3" fill="#fff"/>
<rect x="643" y="394" width="5.6" height="4" fill="#fff"/>
<rect x="638" y="395.5" width="4" height="1.3" fill="#fff"/>
<rect x="643" y="400" width="5.6" height="4" fill="#fff"/>
<rect x="638" y="401.5" width="4" height="1.3" fill="#fff"/>
<rect x="643" y="406" width="5.6" height="4" fill="#fff"/>
<rect x="638" y="407.5" width="4" height="1.3" fill="#fff"/>
<rect x="643" y="411" width="5.6" height="4" fill="#fff"/>
<rect x="638" y="412.5" width="4" height="1.3" fill="#fff"/>
<rect x="643" y="417" width="5.6" height="4" fill="#fff"/>
<rect x="638" y="418.5" width="4" height="1.3" fill="#fff"/>
<rect x="643" y="423" width="5.6" height="4" fill="#fff"/>
<rect x="638" y="424.5" width="4" height="1.3" fill="#fff"/>
<rect x="643" y="429" width="5.6" height="4" fill="#fff"/>
<rect x="638" y="430.5" width="4" height="1.3" fill="#fff"/>
<rect x="643" y="435" width="5.6" height="4" fill="#fff"/>
<rect x="638" y="436.5" width="4" height="1.3" fill="#fff"/>
<rect x="643" y="441" width="5.6" height="4" fill="#fff"/>
<rect x="638" y="442.5" width="4" height="1.3" fill="#fff"/>
<rect x="643" y="447" width="5.6" height="4" fill="#fff"/>
<rect x="638" y="448.5" width="4" height="1.3" fill="#fff"/>
<rect x="643" y="453" width="5.6" height="4" fill="#fff"/>
<rect x="638" y="454.5" width="4" height="1.3" fill="#fff"/>
<rect x="643" y="458" width="5.6" height="4" fill="#fff"/>
<rect x="638" y="459.5" width="4" height="1.3" fill="#fff"/>
<rect x="643" y="464" width="5.6" height="4" fill="#fff"/>
<rect x="638" y="465.5" width="4" height="1.3" fill="#fff"/>
<rect x="643" y="470" width="5.6" height="4" fill="#fff"/>
<rect x="638" y="471.5" width="4" height="1.3" fill="#fff"/>
<rect x="643" y="476" width="5.6" height="4" fill="#fff"/>
<rect x="638" y="477.5" width="4" height="1.3" fill="#fff"/>
<rect x="643" y="482" width="5.6" height="4" fill="#fff"/>
<rect x="638" y="483.5" width="4" height="1.3" fill="#fff"/>
<rect x="643" y="488" width="5.6" height="4" fill="#fff"/>
<rect x="638" y="489.5" width="4" height="1.3" fill="#fff"/>
<rect x="643" y="494" width="5.6" height="4" fill="#fff"/>
<rect x="638" y="495.5" width="4" height="1.3" fill="#fff"/>
<rect x="643" y="500" width="5.6" height="4" fill="#fff"/>
<rect x="638" y="501.5" width="4" height="1.3" fill="#fff"/>
<rect x="643" y="505" width="5.6" height="4" fill="#fff"/>
<rect x="638" y="506.5" width="4" height="1.3" fill="#fff"/>
<rect x="643" y="511" width="5.6" height="4" fill="#fff"/>
<rect x="638" y="512.5" width="4" height="1.3" fill="#fff"/>
<rect x="643" y="517" width="5.6" height="4" fill="#fff"/>
<rect x="638" y="518.5" width="4" height="1.3" fill="#fff"/>
<rect x="643" y="523" width="5.6" height="4" fill="#fff"/>
<rect x="638" y="524.5" width="4" height="1.3" fill="#fff"/>
<rect x="643" y="529" width="5.6" height="4" fill="#fff"/>
<rect x="638" y="530.5" width="4" height="1.3" fill="#fff"/>
<rect x="643" y="535" width="5.6" height="4" fill="#fff"/>
<rect x="638" y="536.5" width="4" height="1.3" fill="#fff"/>
<rect x="643" y="541" width="5.6" height="4" fill="#fff"/>
<rect x="638" y="542.5" width="4" height="1.3" fill="#fff"/>
<rect x="643" y="547" width="5.6" height="4" fill="#fff"/>
<rect x="638" y="548.5" width="4" height="1.3" fill="#fff"/>
<rect x="628.5" y="361.5" width="6" height="13.5" fill="#fff" stroke="#000"/>
<rect x="628.5" y="379.5" width="6" height="27.5" fill="#fff" stroke="#000"/>
<rect x="628.5" y="414.5" width="6" height="27.5" fill="#fff" stroke="#000"/>
<rect x="628.5" y="452.5" width="6" height="29.5" fill="#fff" stroke="#000"/>
<rect x="628.5" y="488.5" width="6" height="29.5" fill="#fff" stroke="#000"/>
<rect x="628.5" y="525.5" width="6" height="28" fill="#fff" stroke="#000"/>
<rect x="628.5" y="559.0" width="6" height="13.0" fill="#fff" stroke="#000"/>
<path d="M615.0 364.5 V368.0 H618.5 V371.5 H610.5 M616.5 371.5 V374.5 H625.5 V364.5" fill="none" stroke="#000" stroke-width="1"/>
<path d="M615.0 567.5 V564.0 H618.5 V560.5 H610.5 M616.5 560.5 V557.5 H625.5 V567.5" fill="none" stroke="#000" stroke-width="1"/>
<path d="M641.0 364.5 V368.0 H644.5 V371.5 H636.5 M642.5 371.5 V374.5 H651.5 V364.5 M636.5 364.5 V371.5" fill="none" stroke="#000" stroke-width="1"/>
<path d="M641.0 567.5 V564.0 H644.5 V560.5 H636.5 M642.5 560.5 V557.5 H651.5 V567.5 M636.5 567.5 V560.5" fill="none" stroke="#000" stroke-width="1"/>
<line x1="652.5" y1="353.5" x2="652.5" y2="578.5" stroke="#000" stroke-width="1"/>
<line x1="659.5" y1="353.5" x2="659.5" y2="361" stroke="#000" stroke-width="1"/>
<line x1="659.5" y1="571" x2="659.5" y2="578.5" stroke="#000" stroke-width="1"/>
<line x1="666.5" y1="353.5" x2="666.5" y2="361" stroke="#000" stroke-width="1"/>
<line x1="666.5" y1="571" x2="666.5" y2="578.5" stroke="#000" stroke-width="1"/>
<line x1="684.5" y1="353.5" x2="684.5" y2="361" stroke="#000" stroke-width="1"/>
<line x1="684.5" y1="571" x2="684.5" y2="578.5" stroke="#000" stroke-width="1"/>
<line x1="691.5" y1="353.5" x2="691.5" y2="361" stroke="#000" stroke-width="1"/>
<line x1="691.5" y1="571" x2="691.5" y2="578.5" stroke="#000" stroke-width="1"/>
<rect x="655" y="379" width="13" height="174" fill="#000"/>
<line x1="668.5" y1="379" x2="668.5" y2="553" stroke="#000" stroke-width="1" stroke-dasharray="1.5 1.4"/>
<rect x="662" y="382" width="5.5" height="4" fill="#fff"/>
<rect x="656" y="383.5" width="4" height="1.3" fill="#fff"/>
<rect x="662" y="388" width="5.5" height="4" fill="#fff"/>
<rect x="656" y="389.5" width="4" height="1.3" fill="#fff"/>
<rect x="662" y="394" width="5.5" height="4" fill="#fff"/>
<rect x="656" y="395.5" width="4" height="1.3" fill="#fff"/>
<rect x="662" y="400" width="5.5" height="4" fill="#fff"/>
<rect x="656" y="401.5" width="4" height="1.3" fill="#fff"/>
<rect x="662" y="406" width="5.5" height="4" fill="#fff"/>
<rect x="656" y="407.5" width="4" height="1.3" fill="#fff"/>
<rect x="662" y="411" width="5.5" height="4" fill="#fff"/>
<rect x="656" y="412.5" width="4" height="1.3" fill="#fff"/>
<rect x="662" y="417" width="5.5" height="4" fill="#fff"/>
<rect x="656" y="418.5" width="4" height="1.3" fill="#fff"/>
<rect x="662" y="423" width="5.5" height="4" fill="#fff"/>
<rect x="656" y="424.5" width="4" height="1.3" fill="#fff"/>
<rect x="662" y="429" width="5.5" height="4" fill="#fff"/>
<rect x="656" y="430.5" width="4" height="1.3" fill="#fff"/>
<rect x="662" y="435" width="5.5" height="4" fill="#fff"/>
<rect x="656" y="436.5" width="4" height="1.3" fill="#fff"/>
<rect x="662" y="441" width="5.5" height="4" fill="#fff"/>
<rect x="656" y="442.5" width="4" height="1.3" fill="#fff"/>
<rect x="662" y="447" width="5.5" height="4" fill="#fff"/>
<rect x="656" y="448.5" width="4" height="1.3" fill="#fff"/>
<rect x="662" y="453" width="5.5" height="4" fill="#fff"/>
<rect x="656" y="454.5" width="4" height="1.3" fill="#fff"/>
<rect x="662" y="458" width="5.5" height="4" fill="#fff"/>
<rect x="656" y="459.5" width="4" height="1.3" fill="#fff"/>
<rect x="662" y="464" width="5.5" height="4" fill="#fff"/>
<rect x="656" y="465.5" width="4" height="1.3" fill="#fff"/>
<rect x="662" y="470" width="5.5" height="4" fill="#fff"/>
<rect x="656" y="471.5" width="4" height="1.3" fill="#fff"/>
<rect x="662" y="476" width="5.5" height="4" fill="#fff"/>
<rect x="656" y="477.5" width="4" height="1.3" fill="#fff"/>
<rect x="662" y="482" width="5.5" height="4" fill="#fff"/>
<rect x="656" y="483.5" width="4" height="1.3" fill="#fff"/>
<rect x="662" y="488" width="5.5" height="4" fill="#fff"/>
<rect x="656" y="489.5" width="4" height="1.3" fill="#fff"/>
<rect x="662" y="494" width="5.5" height="4" fill="#fff"/>
<rect x="656" y="495.5" width="4" height="1.3" fill="#fff"/>
<rect x="662" y="500" width="5.5" height="4" fill="#fff"/>
<rect x="656" y="501.5" width="4" height="1.3" fill="#fff"/>
<rect x="662" y="505" width="5.5" height="4" fill="#fff"/>
<rect x="656" y="506.5" width="4" height="1.3" fill="#fff"/>
<rect x="662" y="511" width="5.5" height="4" fill="#fff"/>
<rect x="656" y="512.5" width="4" height="1.3" fill="#fff"/>
<rect x="662" y="517" width="5.5" height="4" fill="#fff"/>
<rect x="656" y="518.5" width="4" height="1.3" fill="#fff"/>
<rect x="662" y="523" width="5.5" height="4" fill="#fff"/>
<rect x="656" y="524.5" width="4" height="1.3" fill="#fff"/>
<rect x="662" y="529" width="5.5" height="4" fill="#fff"/>
<rect x="656" y="530.5" width="4" height="1.3" fill="#fff"/>
<rect x="662" y="535" width="5.5" height="4" fill="#fff"/>
<rect x="656" y="536.5" width="4" height="1.3" fill="#fff"/>
<rect x="662" y="541" width="5.5" height="4" fill="#fff"/>
<rect x="656" y="542.5" width="4" height="1.3" fill="#fff"/>
<rect x="662" y="547" width="5.5" height="4" fill="#fff"/>
<rect x="656" y="548.5" width="4" height="1.3" fill="#fff"/>
<rect x="679" y="379" width="13" height="174" fill="#000"/>
<line x1="692.5" y1="379" x2="692.5" y2="553" stroke="#000" stroke-width="1" stroke-dasharray="1.5 1.4"/>
<rect x="685" y="382" width="5.6" height="4" fill="#fff"/>
<rect x="680" y="383.5" width="4" height="1.3" fill="#fff"/>
<rect x="685" y="388" width="5.6" height="4" fill="#fff"/>
<rect x="680" y="389.5" width="4" height="1.3" fill="#fff"/>
<rect x="685" y="394" width="5.6" height="4" fill="#fff"/>
<rect x="680" y="395.5" width="4" height="1.3" fill="#fff"/>
<rect x="685" y="400" width="5.6" height="4" fill="#fff"/>
<rect x="680" y="401.5" width="4" height="1.3" fill="#fff"/>
<rect x="685" y="406" width="5.6" height="4" fill="#fff"/>
<rect x="680" y="407.5" width="4" height="1.3" fill="#fff"/>
<rect x="685" y="411" width="5.6" height="4" fill="#fff"/>
<rect x="680" y="412.5" width="4" height="1.3" fill="#fff"/>
<rect x="685" y="417" width="5.6" height="4" fill="#fff"/>
<rect x="680" y="418.5" width="4" height="1.3" fill="#fff"/>
<rect x="685" y="423" width="5.6" height="4" fill="#fff"/>
<rect x="680" y="424.5" width="4" height="1.3" fill="#fff"/>
<rect x="685" y="429" width="5.6" height="4" fill="#fff"/>
<rect x="680" y="430.5" width="4" height="1.3" fill="#fff"/>
<rect x="685" y="435" width="5.6" height="4" fill="#fff"/>
<rect x="680" y="436.5" width="4" height="1.3" fill="#fff"/>
<rect x="685" y="441" width="5.6" height="4" fill="#fff"/>
<rect x="680" y="442.5" width="4" height="1.3" fill="#fff"/>
<rect x="685" y="447" width="5.6" height="4" fill="#fff"/>
<rect x="680" y="448.5" width="4" height="1.3" fill="#fff"/>
<rect x="685" y="453" width="5.6" height="4" fill="#fff"/>
<rect x="680" y="454.5" width="4" height="1.3" fill="#fff"/>
<rect x="685" y="458" width="5.6" height="4" fill="#fff"/>
<rect x="680" y="459.5" width="4" height="1.3" fill="#fff"/>
<rect x="685" y="464" width="5.6" height="4" fill="#fff"/>
<rect x="680" y="465.5" width="4" height="1.3" fill="#fff"/>
<rect x="685" y="470" width="5.6" height="4" fill="#fff"/>
<rect x="680" y="471.5" width="4" height="1.3" fill="#fff"/>
<rect x="685" y="476" width="5.6" height="4" fill="#fff"/>
<rect x="680" y="477.5" width="4" height="1.3" fill="#fff"/>
<rect x="685" y="482" width="5.6" height="4" fill="#fff"/>
<rect x="680" y="483.5" width="4" height="1.3" fill="#fff"/>
<rect x="685" y="488" width="5.6" height="4" fill="#fff"/>
<rect x="680" y="489.5" width="4" height="1.3" fill="#fff"/>
<rect x="685" y="494" width="5.6" height="4" fill="#fff"/>
<rect x="680" y="495.5" width="4" height="1.3" fill="#fff"/>
<rect x="685" y="500" width="5.6" height="4" fill="#fff"/>
<rect x="680" y="501.5" width="4" height="1.3" fill="#fff"/>
<rect x="685" y="505" width="5.6" height="4" fill="#fff"/>
<rect x="680" y="506.5" width="4" height="1.3" fill="#fff"/>
<rect x="685" y="511" width="5.6" height="4" fill="#fff"/>
<rect x="680" y="512.5" width="4" height="1.3" fill="#fff"/>
<rect x="685" y="517" width="5.6" height="4" fill="#fff"/>
<rect x="680" y="518.5" width="4" height="1.3" fill="#fff"/>
<rect x="685" y="523" width="5.6" height="4" fill="#fff"/>
<rect x="680" y="524.5" width="4" height="1.3" fill="#fff"/>
<rect x="685" y="529" width="5.6" height="4" fill="#fff"/>
<rect x="680" y="530.5" width="4" height="1.3" fill="#fff"/>
<rect x="685" y="535" width="5.6" height="4" fill="#fff"/>
<rect x="680" y="536.5" width="4" height="1.3" fill="#fff"/>
<rect x="685" y="541" width="5.6" height="4" fill="#fff"/>
<rect x="680" y="542.5" width="4" height="1.3" fill="#fff"/>
<rect x="685" y="547" width="5.6" height="4" fill="#fff"/>
<rect x="680" y="548.5" width="4" height="1.3" fill="#fff"/>
<rect x="670.5" y="361.5" width="6" height="13.5" fill="#fff" stroke="#000"/>
<rect x="670.5" y="379.5" width="6" height="27.5" fill="#fff" stroke="#000"/>
<rect x="670.5" y="414.5" width="6" height="27.5" fill="#fff" stroke="#000"/>
<rect x="670.5" y="452.5" width="6" height="29.5" fill="#fff" stroke="#000"/>
<rect x="670.5" y="488.5" width="6" height="29.5" fill="#fff" stroke="#000"/>
<rect x="670.5" y="525.5" width="6" height="28" fill="#fff" stroke="#000"/>
<rect x="670.5" y="559.0" width="6" height="13.0" fill="#fff" stroke="#000"/>
<path d="M657.0 364.5 V368.0 H660.5 V371.5 H652.5 M658.5 371.5 V374.5 H667.5 V364.5" fill="none" stroke="#000" stroke-width="1"/>
<path d="M657.0 567.5 V564.0 H660.5 V560.5 H652.5 M658.5 560.5 V557.5 H667.5 V567.5" fill="none" stroke="#000" stroke-width="1"/>
<path d="M683.0 364.5 V368.0 H686.5 V371.5 H678.5 M684.5 371.5 V374.5 H693.5 V364.5 M678.5 364.5 V371.5" fill="none" stroke="#000" stroke-width="1"/>
<path d="M683.0 567.5 V564.0 H686.5 V560.5 H678.5 M684.5 560.5 V557.5 H693.5 V567.5 M678.5 567.5 V560.5" fill="none" stroke="#000" stroke-width="1"/>
<rect x="372.5" y="416.5" width="58.5" height="18" fill="#000"/>
<rect x="374" y="418" width="55" height="14.5" fill="#fff" stroke="#000" stroke-width="1"/>
<text x="376.5" y="429.904" font-size="13" text-anchor="start" fill="#000" textLength="46" lengthAdjust="spacingAndGlyphs">BANK 0</text>
<rect x="455" y="463.5" width="60" height="18.5" fill="#000"/>
<rect x="456.5" y="465" width="56.5" height="15" fill="#fff" stroke="#000" stroke-width="1"/>
<text x="459.75" y="477.154" font-size="13" text-anchor="start" fill="#000" textLength="46" lengthAdjust="spacingAndGlyphs">BANK 1</text>
<rect x="539" y="416.5" width="59" height="18" fill="#000"/>
<rect x="540.5" y="418" width="55.5" height="14.5" fill="#fff" stroke="#000" stroke-width="1"/>
<text x="543.25" y="429.904" font-size="13" text-anchor="start" fill="#000" textLength="46" lengthAdjust="spacingAndGlyphs">BANK 2</text>
<rect x="621.5" y="463.5" width="60" height="18.5" fill="#000"/>
<rect x="623" y="465" width="56.5" height="15" fill="#fff" stroke="#000" stroke-width="1"/>
<text x="626.25" y="477.154" font-size="13" text-anchor="start" fill="#000" textLength="46" lengthAdjust="spacingAndGlyphs">BANK 3</text>
</svg>
</body></html>
